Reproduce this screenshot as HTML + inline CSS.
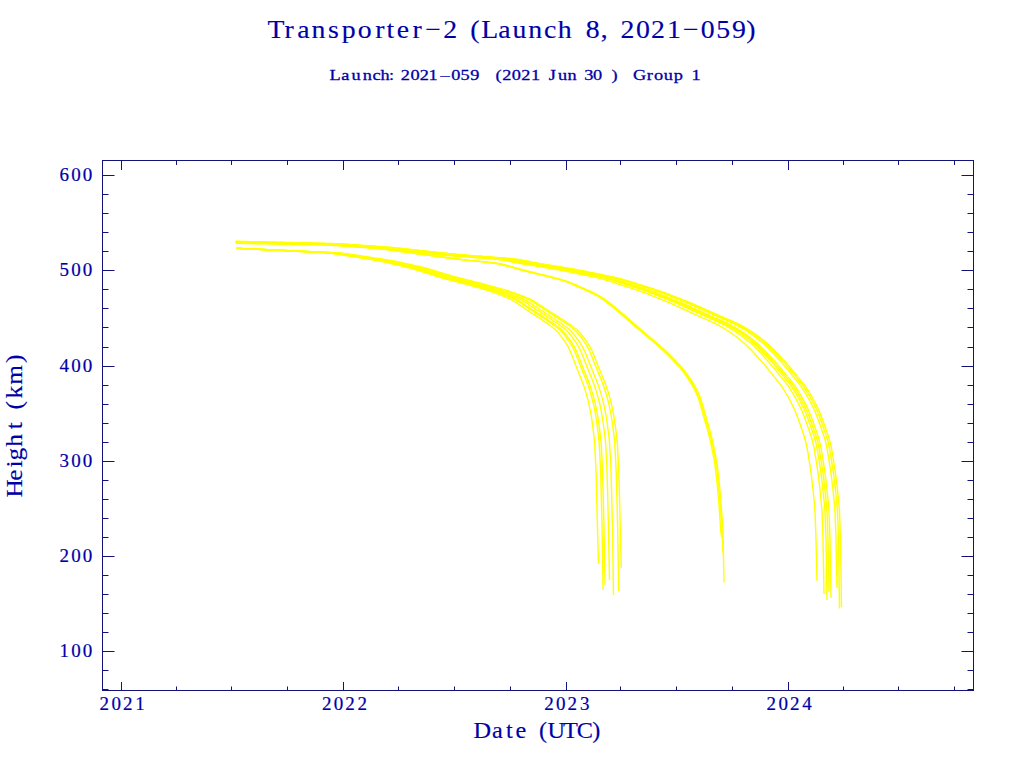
<!DOCTYPE html>
<html><head><meta charset="utf-8"><style>
html,body{margin:0;padding:0;background:#fff;width:1024px;height:768px;overflow:hidden}
svg{display:block}
text{font-family:"Liberation Serif", serif}
</style></head><body>
<svg width="1024" height="768" viewBox="0 0 1024 768">
<rect width="1024" height="768" fill="#fff"/>
<rect x="102.5" y="160.5" width="871" height="530" fill="none" stroke="#12127a" stroke-width="1"/>
<path d="M102.5 689.5h6M973.5 689.5h-6M102.5 670.5h6M973.5 670.5h-6M102.5 651.5h12M973.5 651.5h-12M102.5 632.5h6M973.5 632.5h-6M102.5 613.5h6M973.5 613.5h-6M102.5 594.5h6M973.5 594.5h-6M102.5 575.5h6M973.5 575.5h-6M102.5 556.5h12M973.5 556.5h-12M102.5 537.5h6M973.5 537.5h-6M102.5 518.5h6M973.5 518.5h-6M102.5 499.5h6M973.5 499.5h-6M102.5 480.5h6M973.5 480.5h-6M102.5 461.5h12M973.5 461.5h-12M102.5 442.5h6M973.5 442.5h-6M102.5 423.5h6M973.5 423.5h-6M102.5 404.5h6M973.5 404.5h-6M102.5 385.5h6M973.5 385.5h-6M102.5 366.5h12M973.5 366.5h-12M102.5 347.5h6M973.5 347.5h-6M102.5 327.5h6M973.5 327.5h-6M102.5 308.5h6M973.5 308.5h-6M102.5 289.5h6M973.5 289.5h-6M102.5 270.5h12M973.5 270.5h-12M102.5 251.5h6M973.5 251.5h-6M102.5 232.5h6M973.5 232.5h-6M102.5 213.5h6M973.5 213.5h-6M102.5 194.5h6M973.5 194.5h-6M102.5 175.5h12M973.5 175.5h-12M121.5 690.5v-8.5M121.5 160.5v9.5M176.5 690.5v-4M176.5 160.5v4.5M231.5 690.5v-4M231.5 160.5v4.5M287.5 690.5v-4M287.5 160.5v4.5M343.5 690.5v-8.5M343.5 160.5v9.5M398.5 690.5v-4M398.5 160.5v4.5M454.5 690.5v-4M454.5 160.5v4.5M510.5 690.5v-4M510.5 160.5v4.5M566.5 690.5v-8.5M566.5 160.5v9.5M620.5 690.5v-4M620.5 160.5v4.5M676.5 690.5v-4M676.5 160.5v4.5M732.5 690.5v-4M732.5 160.5v4.5M788.5 690.5v-8.5M788.5 160.5v9.5M843.5 690.5v-4M843.5 160.5v4.5M898.5 690.5v-4M898.5 160.5v4.5M954.5 690.5v-4M954.5 160.5v4.5" fill="none" stroke="#12127a" stroke-width="1"/>
<path d="M236.0 248.4 L236.0 248.4 L238.0 248.4 L240.0 248.5 L242.0 248.6 L244.0 248.7 L246.0 248.8 L248.0 248.9 L250.0 249.0 L252.0 249.1 L254.0 249.2 L256.0 249.3 L258.0 249.4 L260.0 249.5 L262.0 249.6 L264.0 249.7 L266.0 249.8 L268.0 249.9 L270.0 250.0 L272.0 250.1 L274.0 250.2 L276.0 250.3 L278.0 250.4 L280.0 250.5 L282.0 250.6 L284.0 250.7 L286.0 250.8 L288.0 250.9 L290.0 251.0 L292.0 251.1 L294.0 251.2 L296.0 251.3 L298.0 251.4 L300.0 251.5 L302.0 251.6 L304.0 251.7 L306.0 251.8 L308.0 251.9 L310.0 252.0 L312.0 252.1 L314.0 252.2 L316.0 252.3 L318.0 252.4 L320.0 252.5 L322.0 252.6 L324.0 252.7 L326.0 252.9 L328.0 253.0 L329.9 253.2 L331.9 253.4 L333.9 253.7 L335.9 254.0 L337.9 254.3 L339.8 254.6 L341.8 254.9 L343.8 255.2 L345.8 255.5 L347.7 255.8 L349.7 256.2 L351.7 256.5 L353.7 256.8 L355.7 257.1 L357.6 257.4 L359.6 257.7 L361.6 258.1 L363.6 258.4 L365.5 258.7 L367.5 259.0 L369.5 259.3 L371.5 259.6 L373.4 260.0 L375.4 260.3 L377.4 260.6 L379.3 261.0 L381.3 261.4 L383.3 261.8 L385.2 262.2 L387.2 262.7 L389.1 263.1 L391.1 263.6 L393.0 264.0 L395.0 264.5 L396.9 264.9 L398.9 265.4 L400.8 265.9 L402.8 266.3 L404.7 266.8 L406.6 267.3 L408.6 267.8 L410.5 268.3 L412.4 268.8 L414.4 269.4 L416.3 270.0 L418.2 270.6 L420.1 271.2 L422.0 271.8 L423.9 272.4 L425.8 273.0 L427.7 273.6 L429.6 274.2 L431.5 274.8 L433.4 275.4 L435.4 276.0 L437.3 276.6 L439.2 277.1 L441.1 277.7 L443.0 278.2 L445.0 278.7 L446.9 279.2 L448.9 279.7 L450.8 280.2 L452.7 280.7 L454.7 281.2 L456.6 281.7 L458.6 282.2 L460.5 282.7 L462.4 283.2 L464.4 283.7 L466.3 284.3 L468.2 284.8 L470.1 285.4 L472.1 285.9 L474.0 286.5 L475.9 287.0 L477.8 287.6 L479.8 288.1 L481.7 288.7 L483.6 289.2 L485.5 289.8 L487.4 290.4 L489.3 291.0 L491.2 291.6 L493.1 292.3 L495.0 292.9 L496.9 293.6 L498.8 294.3 L500.6 295.1 L502.5 295.8 L504.3 296.5 L506.2 297.3 L508.0 298.1 L509.8 298.9 L511.6 299.8 L513.3 300.8 L515.0 301.9 L516.7 302.9 L518.3 304.0 L520.0 305.2 L521.7 306.3 L523.3 307.4 L525.0 308.5 L526.6 309.7 L528.3 310.8 L529.9 311.9 L531.6 313.0 L533.3 314.1 L534.9 315.2 L536.6 316.3 L538.3 317.4 L540.0 318.5 L541.6 319.6 L543.3 320.8 L544.9 321.9 L546.6 323.0 L548.2 324.1 L549.9 325.3 L551.5 326.5 L553.0 327.7 L554.5 329.0 L556.0 330.3 L557.4 331.8 L558.7 333.3 L559.9 334.8 L561.1 336.4 L562.3 338.0 L563.5 339.6 L564.6 341.2 L565.7 342.9 L566.8 344.6 L567.8 346.3 L568.8 348.1 L569.6 349.8 L570.4 351.7 L571.2 353.5 L571.9 355.4 L572.7 357.2 L573.4 359.1 L574.1 361.0 L574.8 362.8 L575.5 364.7 L576.3 366.6 L577.0 368.4 L577.7 370.3 L578.5 372.1 L579.2 374.0 L579.9 375.9 L580.7 377.7 L581.4 379.6 L582.1 381.5 L582.8 383.3 L583.5 385.2 L584.1 387.1 L584.8 389.0 L585.4 390.9 L585.9 392.8 L586.5 394.7 L587.1 396.7 L587.6 398.6 L588.1 400.5 L588.6 402.5 L589.0 404.4 L589.4 406.4 L589.8 408.3 L590.2 410.3 L590.6 412.3 L590.9 414.2 L591.3 416.2 L591.6 418.2 L591.9 420.2 L592.2 422.1 L592.4 424.1 L592.7 426.1 L592.9 428.1 L593.2 430.1 L593.5 432.1 L593.7 434.0 L593.9 436.0 L594.2 438.0 L594.3 440.0 L594.5 442.0 L594.7 444.0 L594.8 446.0 L594.9 448.0 L595.0 450.0 L595.1 452.0 L595.2 454.0 L595.3 456.0 L595.4 458.0 L595.5 460.0 L595.6 462.0 L595.7 464.0 L595.8 466.0 L595.9 468.0 L596.0 470.0 L596.0 472.0 L596.1 474.0 L596.2 476.0 L596.2 478.0 L596.3 480.0 L596.3 482.0 L596.4 484.0 L596.4 486.0 L596.5 488.0 L596.5 490.0 L596.6 492.0 L596.6 494.0 L596.7 496.0 L596.7 498.0 L596.8 500.0 L596.8 502.0 L596.9 504.0 L596.9 506.0 L597.0 508.0 L597.0 510.0 L597.1 512.0 L597.1 514.0 L597.2 516.0 L597.2 518.0 L597.3 520.0 L597.3 522.0 L597.4 524.0 L597.4 526.0 L597.5 528.0 L597.5 530.0 L598.5 564.0" fill="none" stroke="#ffff00" stroke-width="1.4" stroke-linejoin="round"/>
<path d="M236.0 248.4 L236.0 248.4 L238.4 248.4 L240.5 248.5 L242.6 248.6 L244.7 248.7 L246.8 248.8 L248.9 248.9 L250.9 249.0 L253.0 249.1 L255.0 249.2 L257.1 249.3 L259.1 249.4 L261.2 249.5 L263.2 249.6 L265.3 249.7 L267.3 249.8 L269.4 249.9 L271.4 250.0 L273.4 250.1 L275.5 250.2 L277.5 250.3 L279.6 250.4 L281.6 250.5 L283.6 250.6 L285.7 250.7 L287.7 250.8 L289.7 250.9 L291.8 251.0 L293.8 251.1 L295.8 251.2 L297.9 251.3 L299.9 251.4 L301.9 251.5 L303.9 251.6 L306.0 251.7 L308.0 251.8 L310.0 251.9 L312.1 252.0 L314.1 252.1 L316.1 252.2 L318.1 252.3 L320.2 252.4 L322.2 252.5 L324.2 252.6 L326.2 252.7 L328.3 252.9 L330.3 253.0 L332.3 253.2 L334.3 253.4 L336.3 253.7 L338.3 254.0 L340.3 254.3 L342.3 254.6 L344.3 254.9 L346.3 255.2 L348.3 255.5 L350.3 255.8 L352.3 256.2 L354.3 256.5 L356.3 256.8 L358.3 257.1 L360.3 257.4 L362.3 257.7 L364.3 258.1 L366.3 258.4 L368.3 258.7 L370.3 259.0 L372.3 259.3 L374.3 259.6 L376.3 260.0 L378.3 260.3 L380.3 260.6 L382.2 261.0 L384.2 261.4 L386.2 261.8 L388.2 262.2 L390.1 262.7 L392.1 263.1 L394.1 263.6 L396.1 264.0 L398.0 264.5 L400.0 264.9 L402.0 265.4 L403.9 265.9 L405.9 266.3 L407.8 266.8 L409.8 267.3 L411.8 267.8 L413.7 268.3 L415.6 268.8 L417.6 269.4 L419.5 270.0 L421.4 270.6 L423.4 271.2 L425.3 271.8 L427.2 272.4 L429.1 273.0 L431.1 273.6 L433.0 274.2 L434.9 274.8 L436.8 275.4 L438.8 276.0 L440.7 276.6 L442.6 277.1 L444.6 277.7 L446.5 278.2 L448.5 278.7 L450.4 279.2 L452.4 279.7 L454.3 280.2 L456.3 280.7 L458.3 281.2 L460.2 281.7 L462.2 282.2 L464.1 282.7 L466.1 283.2 L468.0 283.7 L470.0 284.3 L471.9 284.8 L473.8 285.4 L475.8 285.9 L477.7 286.5 L479.7 287.0 L481.6 287.6 L483.5 288.1 L485.5 288.7 L487.4 289.2 L489.3 289.8 L491.3 290.4 L493.2 291.0 L495.1 291.6 L497.0 292.3 L498.9 292.9 L500.8 293.6 L502.7 294.3 L504.6 295.1 L506.4 295.8 L508.3 296.5 L510.2 297.3 L512.0 298.1 L513.8 298.9 L515.6 299.8 L517.3 300.8 L519.0 301.9 L520.7 302.9 L522.4 304.0 L524.1 305.2 L525.7 306.3 L527.4 307.4 L529.1 308.5 L530.7 309.7 L532.4 310.8 L534.1 311.9 L535.8 313.0 L537.4 314.1 L539.1 315.2 L540.8 316.3 L542.5 317.4 L544.2 318.5 L545.9 319.6 L547.5 320.8 L549.2 321.9 L550.9 323.0 L552.5 324.1 L554.1 325.3 L555.8 326.5 L557.3 327.7 L558.9 329.0 L560.3 330.3 L561.7 331.8 L563.0 333.3 L564.3 334.8 L565.5 336.4 L566.7 338.0 L567.9 339.6 L569.0 341.2 L570.1 342.9 L571.2 344.6 L572.2 346.3 L573.2 348.1 L574.0 349.8 L574.9 351.7 L575.6 353.5 L576.4 355.4 L577.1 357.2 L577.8 359.1 L578.5 361.0 L579.3 362.8 L580.0 364.7 L580.7 366.6 L581.5 368.4 L582.2 370.3 L582.9 372.1 L583.7 374.0 L584.4 375.9 L585.2 377.7 L585.9 379.6 L586.6 381.5 L587.3 383.3 L588.0 385.2 L588.6 387.1 L589.3 389.0 L589.9 390.9 L590.5 392.8 L591.0 394.7 L591.6 396.7 L592.1 398.6 L592.6 400.5 L593.1 402.5 L593.5 404.4 L594.0 406.4 L594.4 408.3 L594.8 410.3 L595.1 412.3 L595.5 414.2 L595.8 416.2 L596.1 418.2 L596.4 420.2 L596.7 422.1 L597.0 424.1 L597.3 426.1 L597.5 428.1 L597.8 430.1 L598.0 432.1 L598.3 434.0 L598.5 436.0 L598.7 438.0 L598.9 440.0 L599.1 442.0 L599.2 444.0 L599.4 446.0 L599.5 448.0 L599.6 450.0 L599.7 452.0 L599.8 454.0 L599.9 456.0 L600.0 458.0 L600.1 460.0 L600.2 462.0 L600.3 464.0 L600.4 466.0 L600.5 468.0 L600.5 470.0 L600.6 472.0 L600.7 474.0 L600.7 476.0 L600.8 478.0 L600.9 480.0 L600.9 482.0 L601.0 484.0 L601.0 486.0 L601.1 488.0 L601.1 490.0 L601.2 492.0 L601.2 494.0 L601.3 496.0 L601.3 498.0 L601.4 500.0 L601.4 502.0 L601.5 504.0 L601.5 506.0 L601.6 508.0 L601.6 510.0 L601.7 512.0 L601.7 514.0 L601.8 516.0 L601.8 518.0 L601.9 520.0 L601.9 522.0 L602.0 524.0 L602.0 526.0 L602.1 528.0 L602.1 530.0 L603.1 590.0" fill="none" stroke="#ffff00" stroke-width="1.4" stroke-linejoin="round"/>
<path d="M236.0 248.4 L236.1 248.4 L238.5 248.4 L240.7 248.5 L242.9 248.6 L245.0 248.7 L247.1 248.8 L249.2 248.9 L251.3 249.0 L253.4 249.1 L255.5 249.2 L257.5 249.3 L259.6 249.4 L261.7 249.5 L263.7 249.6 L265.8 249.7 L267.9 249.8 L269.9 249.9 L272.0 250.0 L274.0 250.1 L276.1 250.2 L278.2 250.3 L280.2 250.4 L282.3 250.5 L284.3 250.6 L286.4 250.7 L288.4 250.8 L290.5 250.9 L292.5 251.0 L294.5 251.1 L296.6 251.2 L298.6 251.3 L300.7 251.4 L302.7 251.5 L304.8 251.6 L306.8 251.7 L308.8 251.8 L310.9 251.9 L312.9 252.0 L315.0 252.1 L317.0 252.2 L319.0 252.3 L321.1 252.4 L323.1 252.5 L325.1 252.6 L327.2 252.7 L329.2 252.9 L331.2 253.0 L333.3 253.2 L335.3 253.4 L337.3 253.7 L339.3 254.0 L341.3 254.3 L343.3 254.6 L345.3 254.9 L347.3 255.2 L349.4 255.5 L351.4 255.8 L353.4 256.2 L355.4 256.5 L357.4 256.8 L359.4 257.1 L361.4 257.4 L363.4 257.7 L365.4 258.1 L367.4 258.4 L369.4 258.7 L371.4 259.0 L373.4 259.3 L375.4 259.6 L377.4 260.0 L379.4 260.3 L381.4 260.6 L383.4 261.0 L385.4 261.4 L387.4 261.8 L389.4 262.2 L391.4 262.7 L393.4 263.1 L395.3 263.6 L397.3 264.0 L399.3 264.5 L401.3 264.9 L403.2 265.4 L405.2 265.9 L407.2 266.3 L409.1 266.8 L411.1 267.3 L413.1 267.8 L415.0 268.3 L417.0 268.8 L418.9 269.4 L420.9 270.0 L422.8 270.6 L424.7 271.2 L426.7 271.8 L428.6 272.4 L430.5 273.0 L432.5 273.6 L434.4 274.2 L436.3 274.8 L438.2 275.4 L440.2 276.0 L442.1 276.6 L444.1 277.1 L446.0 277.7 L448.0 278.2 L449.9 278.7 L451.9 279.2 L453.8 279.7 L455.8 280.2 L457.8 280.7 L459.7 281.2 L461.7 281.7 L463.7 282.2 L465.6 282.7 L467.6 283.2 L469.5 283.7 L471.5 284.3 L473.4 284.8 L475.4 285.4 L477.3 285.9 L479.3 286.5 L481.2 287.0 L483.1 287.6 L485.1 288.1 L487.0 288.7 L489.0 289.2 L490.9 289.8 L492.9 290.4 L494.8 291.0 L496.7 291.6 L498.6 292.3 L500.5 292.9 L502.4 293.6 L504.3 294.3 L506.2 295.1 L508.1 295.8 L509.9 296.5 L511.8 297.3 L513.7 298.1 L515.5 298.9 L517.3 299.8 L519.0 300.8 L520.7 301.9 L522.4 302.9 L524.1 304.0 L525.8 305.2 L527.4 306.3 L529.1 307.4 L530.8 308.5 L532.4 309.7 L534.1 310.8 L535.8 311.9 L537.5 313.0 L539.2 314.1 L540.9 315.2 L542.5 316.3 L544.2 317.4 L545.9 318.5 L547.6 319.6 L549.3 320.8 L550.9 321.9 L552.6 323.0 L554.3 324.1 L555.9 325.3 L557.5 326.5 L559.1 327.7 L560.6 329.0 L562.1 330.3 L563.5 331.8 L564.8 333.3 L566.1 334.8 L567.3 336.4 L568.5 338.0 L569.7 339.6 L570.8 341.2 L572.0 342.9 L573.0 344.6 L574.0 346.3 L575.0 348.1 L575.9 349.8 L576.7 351.7 L577.5 353.5 L578.2 355.4 L578.9 357.2 L579.7 359.1 L580.4 361.0 L581.1 362.8 L581.8 364.7 L582.6 366.6 L583.3 368.4 L584.0 370.3 L584.8 372.1 L585.5 374.0 L586.3 375.9 L587.0 377.7 L587.8 379.6 L588.5 381.5 L589.2 383.3 L589.9 385.2 L590.5 387.1 L591.1 389.0 L591.7 390.9 L592.3 392.8 L592.9 394.7 L593.5 396.7 L594.0 398.6 L594.5 400.5 L595.0 402.5 L595.4 404.4 L595.8 406.4 L596.2 408.3 L596.6 410.3 L597.0 412.3 L597.4 414.2 L597.7 416.2 L598.0 418.2 L598.3 420.2 L598.6 422.1 L598.9 424.1 L599.1 426.1 L599.4 428.1 L599.7 430.1 L599.9 432.1 L600.2 434.0 L600.4 436.0 L600.6 438.0 L600.8 440.0 L601.0 442.0 L601.1 444.0 L601.3 446.0 L601.4 448.0 L601.5 450.0 L601.6 452.0 L601.7 454.0 L601.8 456.0 L601.9 458.0 L602.0 460.0 L602.1 462.0 L602.2 464.0 L602.3 466.0 L602.4 468.0 L602.4 470.0 L602.5 472.0 L602.6 474.0 L602.6 476.0 L602.7 478.0 L602.8 480.0 L602.8 482.0 L602.9 484.0 L602.9 486.0 L603.0 488.0 L603.0 490.0 L603.1 492.0 L603.1 494.0 L603.2 496.0 L603.2 498.0 L603.3 500.0 L603.3 502.0 L603.4 504.0 L603.4 506.0 L603.5 508.0 L603.5 510.0 L603.6 512.0 L603.6 514.0 L603.7 516.0 L603.7 518.0 L603.8 520.0 L603.8 522.0 L603.9 524.0 L603.9 526.0 L604.0 528.0 L604.0 530.0 L605.0 585.0" fill="none" stroke="#ffff00" stroke-width="1.4" stroke-linejoin="round"/>
<path d="M236.0 248.4 L236.1 248.4 L238.8 248.4 L241.2 248.5 L243.4 248.6 L245.7 248.7 L247.8 248.8 L250.0 248.9 L252.2 249.0 L254.3 249.1 L256.5 249.2 L258.6 249.3 L260.7 249.4 L262.8 249.5 L265.0 249.6 L267.1 249.7 L269.2 249.8 L271.3 249.9 L273.4 250.0 L275.5 250.1 L277.6 250.2 L279.7 250.3 L281.7 250.4 L283.8 250.5 L285.9 250.6 L288.0 250.7 L290.1 250.8 L292.2 250.9 L294.2 251.0 L296.3 251.1 L298.4 251.2 L300.5 251.3 L302.5 251.4 L304.6 251.5 L306.7 251.6 L308.7 251.7 L310.8 251.8 L312.9 251.9 L315.0 252.0 L317.0 252.1 L319.1 252.2 L321.1 252.3 L323.2 252.4 L325.3 252.5 L327.3 252.6 L329.4 252.7 L331.4 252.9 L333.5 253.0 L335.5 253.2 L337.6 253.4 L339.6 253.7 L341.7 254.0 L343.7 254.3 L345.7 254.6 L347.8 254.9 L349.8 255.2 L351.8 255.5 L353.9 255.8 L355.9 256.2 L357.9 256.5 L360.0 256.8 L362.0 257.1 L364.0 257.4 L366.0 257.7 L368.1 258.1 L370.1 258.4 L372.1 258.7 L374.1 259.0 L376.2 259.3 L378.2 259.6 L380.2 260.0 L382.2 260.3 L384.3 260.6 L386.3 261.0 L388.3 261.4 L390.3 261.8 L392.3 262.2 L394.3 262.7 L396.3 263.1 L398.3 263.6 L400.3 264.0 L402.3 264.5 L404.3 264.9 L406.2 265.4 L408.2 265.9 L410.2 266.3 L412.2 266.8 L414.2 267.3 L416.2 267.8 L418.2 268.3 L420.1 268.8 L422.1 269.4 L424.0 270.0 L426.0 270.6 L427.9 271.2 L429.9 271.8 L431.8 272.4 L433.8 273.0 L435.7 273.6 L437.7 274.2 L439.6 274.8 L441.6 275.4 L443.5 276.0 L445.5 276.6 L447.4 277.1 L449.4 277.7 L451.4 278.2 L453.3 278.7 L455.3 279.2 L457.3 279.7 L459.3 280.2 L461.3 280.7 L463.2 281.2 L465.2 281.7 L467.2 282.2 L469.2 282.7 L471.1 283.2 L473.1 283.7 L475.1 284.3 L477.0 284.8 L479.0 285.4 L480.9 285.9 L482.9 286.5 L484.9 287.0 L486.8 287.6 L488.8 288.1 L490.8 288.7 L492.7 289.2 L494.7 289.8 L496.6 290.4 L498.5 291.0 L500.5 291.6 L502.4 292.3 L504.3 292.9 L506.2 293.6 L508.1 294.3 L510.0 295.1 L511.9 295.8 L513.8 296.5 L515.7 297.3 L517.6 298.1 L519.4 298.9 L521.2 299.8 L522.9 300.8 L524.7 301.9 L526.4 302.9 L528.1 304.0 L529.8 305.2 L531.4 306.3 L533.1 307.4 L534.8 308.5 L536.5 309.7 L538.2 310.8 L539.9 311.9 L541.6 313.0 L543.2 314.1 L544.9 315.2 L546.6 316.3 L548.3 317.4 L550.0 318.5 L551.7 319.6 L553.4 320.8 L555.1 321.9 L556.8 323.0 L558.5 324.1 L560.1 325.3 L561.7 326.5 L563.3 327.7 L564.9 329.0 L566.3 330.3 L567.7 331.8 L569.1 333.3 L570.3 334.8 L571.6 336.4 L572.8 338.0 L574.0 339.6 L575.1 341.2 L576.3 342.9 L577.3 344.6 L578.4 346.3 L579.3 348.1 L580.2 349.8 L581.0 351.7 L581.8 353.5 L582.6 355.4 L583.3 357.2 L584.0 359.1 L584.7 361.0 L585.5 362.8 L586.2 364.7 L586.9 366.6 L587.7 368.4 L588.4 370.3 L589.2 372.1 L589.9 374.0 L590.7 375.9 L591.4 377.7 L592.2 379.6 L592.9 381.5 L593.6 383.3 L594.3 385.2 L594.9 387.1 L595.6 389.0 L596.2 390.9 L596.8 392.8 L597.3 394.7 L597.9 396.7 L598.4 398.6 L598.9 400.5 L599.4 402.5 L599.9 404.4 L600.3 406.4 L600.7 408.3 L601.1 410.3 L601.5 412.3 L601.8 414.2 L602.2 416.2 L602.5 418.2 L602.8 420.2 L603.1 422.1 L603.3 424.1 L603.6 426.1 L603.9 428.1 L604.1 430.1 L604.4 432.1 L604.6 434.0 L604.9 436.0 L605.1 438.0 L605.3 440.0 L605.5 442.0 L605.6 444.0 L605.7 446.0 L605.9 448.0 L606.0 450.0 L606.1 452.0 L606.2 454.0 L606.3 456.0 L606.4 458.0 L606.5 460.0 L606.6 462.0 L606.7 464.0 L606.8 466.0 L606.8 468.0 L606.9 470.0 L607.0 472.0 L607.1 474.0 L607.1 476.0 L607.2 478.0 L607.2 480.0 L607.3 482.0 L607.4 484.0 L607.4 486.0 L607.5 488.0 L607.5 490.0 L607.6 492.0 L607.6 494.0 L607.7 496.0 L607.7 498.0 L607.8 500.0 L607.8 502.0 L607.9 504.0 L607.9 506.0 L608.0 508.0 L608.0 510.0 L608.1 512.0 L608.1 514.0 L608.2 516.0 L608.2 518.0 L608.3 520.0 L608.3 522.0 L608.4 524.0 L608.4 526.0 L608.5 528.0 L608.5 530.0 L609.5 580.0" fill="none" stroke="#ffff00" stroke-width="1.4" stroke-linejoin="round"/>
<path d="M236.0 248.4 L236.1 248.4 L239.1 248.4 L241.6 248.5 L244.0 248.6 L246.2 248.7 L248.5 248.8 L250.7 248.9 L253.0 249.0 L255.2 249.1 L257.4 249.2 L259.5 249.3 L261.7 249.4 L263.9 249.5 L266.0 249.6 L268.2 249.7 L270.3 249.8 L272.5 249.9 L274.6 250.0 L276.7 250.1 L278.9 250.2 L281.0 250.3 L283.1 250.4 L285.2 250.5 L287.3 250.6 L289.5 250.7 L291.6 250.8 L293.7 250.9 L295.8 251.0 L297.9 251.1 L300.0 251.2 L302.1 251.3 L304.2 251.4 L306.3 251.5 L308.4 251.6 L310.5 251.7 L312.6 251.8 L314.7 251.9 L316.8 252.0 L318.9 252.1 L320.9 252.2 L323.0 252.3 L325.1 252.4 L327.2 252.5 L329.3 252.6 L331.4 252.7 L333.4 252.9 L335.5 253.0 L337.6 253.2 L339.7 253.4 L341.7 253.7 L343.8 254.0 L345.8 254.3 L347.9 254.6 L349.9 254.9 L352.0 255.2 L354.0 255.5 L356.1 255.8 L358.1 256.2 L360.2 256.5 L362.2 256.8 L364.3 257.1 L366.3 257.4 L368.4 257.7 L370.4 258.1 L372.5 258.4 L374.5 258.7 L376.6 259.0 L378.6 259.3 L380.6 259.6 L382.7 260.0 L384.7 260.3 L386.8 260.6 L388.8 261.0 L390.8 261.4 L392.8 261.8 L394.9 262.2 L396.9 262.7 L398.9 263.1 L400.9 263.6 L402.9 264.0 L404.9 264.5 L406.9 264.9 L408.9 265.4 L410.9 265.9 L412.9 266.3 L415.0 266.8 L417.0 267.3 L418.9 267.8 L420.9 268.3 L422.9 268.8 L424.9 269.4 L426.9 270.0 L428.8 270.6 L430.8 271.2 L432.8 271.8 L434.7 272.4 L436.7 273.0 L438.6 273.6 L440.6 274.2 L442.6 274.8 L444.5 275.4 L446.5 276.0 L448.5 276.6 L450.4 277.1 L452.4 277.7 L454.4 278.2 L456.4 278.7 L458.4 279.2 L460.4 279.7 L462.4 280.2 L464.4 280.7 L466.3 281.2 L468.3 281.7 L470.3 282.2 L472.3 282.7 L474.3 283.2 L476.3 283.7 L478.3 284.3 L480.2 284.8 L482.2 285.4 L484.2 285.9 L486.2 286.5 L488.1 287.0 L490.1 287.6 L492.1 288.1 L494.0 288.7 L496.0 289.2 L498.0 289.8 L499.9 290.4 L501.9 291.0 L503.8 291.6 L505.8 292.3 L507.7 292.9 L509.6 293.6 L511.5 294.3 L513.5 295.1 L515.4 295.8 L517.3 296.5 L519.2 297.3 L521.0 298.1 L522.9 298.9 L524.7 299.8 L526.4 300.8 L528.2 301.9 L529.9 302.9 L531.6 304.0 L533.3 305.2 L535.0 306.3 L536.7 307.4 L538.4 308.5 L540.1 309.7 L541.8 310.8 L543.5 311.9 L545.2 313.0 L546.9 314.1 L548.6 315.2 L550.3 316.3 L552.0 317.4 L553.7 318.5 L555.4 319.6 L557.1 320.8 L558.8 321.9 L560.5 323.0 L562.2 324.1 L563.8 325.3 L565.5 326.5 L567.1 327.7 L568.6 329.0 L570.1 330.3 L571.5 331.8 L572.8 333.3 L574.1 334.8 L575.4 336.4 L576.6 338.0 L577.8 339.6 L578.9 341.2 L580.1 342.9 L581.2 344.6 L582.2 346.3 L583.1 348.1 L584.0 349.8 L584.9 351.7 L585.7 353.5 L586.4 355.4 L587.1 357.2 L587.9 359.1 L588.6 361.0 L589.3 362.8 L590.1 364.7 L590.8 366.6 L591.6 368.4 L592.3 370.3 L593.1 372.1 L593.8 374.0 L594.6 375.9 L595.3 377.7 L596.1 379.6 L596.8 381.5 L597.5 383.3 L598.2 385.2 L598.9 387.1 L599.5 389.0 L600.1 390.9 L600.7 392.8 L601.3 394.7 L601.8 396.7 L602.4 398.6 L602.9 400.5 L603.4 402.5 L603.8 404.4 L604.2 406.4 L604.7 408.3 L605.0 410.3 L605.4 412.3 L605.8 414.2 L606.1 416.2 L606.5 418.2 L606.8 420.2 L607.0 422.1 L607.3 424.1 L607.6 426.1 L607.8 428.1 L608.1 430.1 L608.4 432.1 L608.6 434.0 L608.9 436.0 L609.1 438.0 L609.3 440.0 L609.4 442.0 L609.6 444.0 L609.7 446.0 L609.8 448.0 L609.9 450.0 L610.0 452.0 L610.2 454.0 L610.3 456.0 L610.4 458.0 L610.5 460.0 L610.6 462.0 L610.7 464.0 L610.8 466.0 L610.8 468.0 L610.9 470.0 L611.0 472.0 L611.1 474.0 L611.1 476.0 L611.2 478.0 L611.2 480.0 L611.3 482.0 L611.3 484.0 L611.4 486.0 L611.5 488.0 L611.5 490.0 L611.6 492.0 L611.6 494.0 L611.7 496.0 L611.7 498.0 L611.8 500.0 L611.8 502.0 L611.9 504.0 L611.9 506.0 L612.0 508.0 L612.0 510.0 L612.1 512.0 L612.1 514.0 L612.2 516.0 L612.2 518.0 L612.3 520.0 L612.3 522.0 L612.4 524.0 L612.4 526.0 L612.5 528.0 L612.5 530.0 L613.5 595.0" fill="none" stroke="#ffff00" stroke-width="1.4" stroke-linejoin="round"/>
<path d="M236.0 248.4 L236.2 248.4 L239.5 248.4 L242.1 248.5 L244.6 248.6 L247.0 248.7 L249.4 248.8 L251.7 248.9 L254.0 249.0 L256.3 249.1 L258.5 249.2 L260.8 249.3 L263.0 249.4 L265.2 249.5 L267.4 249.6 L269.6 249.7 L271.8 249.8 L274.0 249.9 L276.2 250.0 L278.4 250.1 L280.5 250.2 L282.7 250.3 L284.9 250.4 L287.0 250.5 L289.2 250.6 L291.4 250.7 L293.5 250.8 L295.6 250.9 L297.8 251.0 L299.9 251.1 L302.1 251.2 L304.2 251.3 L306.3 251.4 L308.5 251.5 L310.6 251.6 L312.7 251.7 L314.9 251.8 L317.0 251.9 L319.1 252.0 L321.2 252.1 L323.4 252.2 L325.5 252.3 L327.6 252.4 L329.7 252.5 L331.8 252.6 L333.9 252.7 L336.0 252.9 L338.1 253.0 L340.2 253.2 L342.3 253.4 L344.4 253.7 L346.5 254.0 L348.6 254.3 L350.7 254.6 L352.7 254.9 L354.8 255.2 L356.9 255.5 L359.0 255.8 L361.1 256.2 L363.1 256.5 L365.2 256.8 L367.3 257.1 L369.3 257.4 L371.4 257.7 L373.5 258.1 L375.6 258.4 L377.6 258.7 L379.7 259.0 L381.8 259.3 L383.8 259.6 L385.9 260.0 L388.0 260.3 L390.0 260.6 L392.1 261.0 L394.1 261.4 L396.2 261.8 L398.2 262.2 L400.2 262.7 L402.3 263.1 L404.3 263.6 L406.3 264.0 L408.4 264.5 L410.4 264.9 L412.4 265.4 L414.5 265.9 L416.5 266.3 L418.5 266.8 L420.5 267.3 L422.5 267.8 L424.5 268.3 L426.5 268.8 L428.5 269.4 L430.5 270.0 L432.5 270.6 L434.5 271.2 L436.5 271.8 L438.5 272.4 L440.4 273.0 L442.4 273.6 L444.4 274.2 L446.4 274.8 L448.4 275.4 L450.4 276.0 L452.3 276.6 L454.3 277.1 L456.3 277.7 L458.3 278.2 L460.3 278.7 L462.4 279.2 L464.4 279.7 L466.4 280.2 L468.4 280.7 L470.4 281.2 L472.4 281.7 L474.4 282.2 L476.4 282.7 L478.4 283.2 L480.4 283.7 L482.4 284.3 L484.4 284.8 L486.4 285.4 L488.4 285.9 L490.4 286.5 L492.4 287.0 L494.4 287.6 L496.3 288.1 L498.3 288.7 L500.3 289.2 L502.3 289.8 L504.3 290.4 L506.3 291.0 L508.2 291.6 L510.2 292.3 L512.1 292.9 L514.0 293.6 L516.0 294.3 L517.9 295.1 L519.8 295.8 L521.8 296.5 L523.7 297.3 L525.5 298.1 L527.4 298.9 L529.2 299.8 L531.0 300.8 L532.8 301.9 L534.5 302.9 L536.2 304.0 L537.9 305.2 L539.6 306.3 L541.3 307.4 L543.0 308.5 L544.7 309.7 L546.4 310.8 L548.2 311.9 L549.9 313.0 L551.6 314.1 L553.3 315.2 L555.0 316.3 L556.8 317.4 L558.5 318.5 L560.2 319.6 L561.9 320.8 L563.6 321.9 L565.3 323.0 L567.0 324.1 L568.7 325.3 L570.3 326.5 L571.9 327.7 L573.5 329.0 L575.0 330.3 L576.4 331.8 L577.8 333.3 L579.0 334.8 L580.3 336.4 L581.5 338.0 L582.7 339.6 L583.9 341.2 L585.0 342.9 L586.1 344.6 L587.2 346.3 L588.1 348.1 L589.0 349.8 L589.9 351.7 L590.7 353.5 L591.4 355.4 L592.2 357.2 L592.9 359.1 L593.6 361.0 L594.4 362.8 L595.1 364.7 L595.9 366.6 L596.6 368.4 L597.4 370.3 L598.1 372.1 L598.9 374.0 L599.6 375.9 L600.4 377.7 L601.2 379.6 L601.9 381.5 L602.6 383.3 L603.3 385.2 L604.0 387.1 L604.6 389.0 L605.2 390.9 L605.8 392.8 L606.4 394.7 L607.0 396.7 L607.5 398.6 L608.0 400.5 L608.5 402.5 L609.0 404.4 L609.4 406.4 L609.8 408.3 L610.2 410.3 L610.6 412.3 L610.9 414.2 L611.3 416.2 L611.6 418.2 L611.9 420.2 L612.2 422.1 L612.5 424.1 L612.7 426.1 L613.0 428.1 L613.3 430.1 L613.5 432.1 L613.8 434.0 L614.0 436.0 L614.3 438.0 L614.5 440.0 L614.6 442.0 L614.8 444.0 L614.9 446.0 L615.0 448.0 L615.1 450.0 L615.2 452.0 L615.3 454.0 L615.4 456.0 L615.5 458.0 L615.6 460.0 L615.7 462.0 L615.8 464.0 L615.9 466.0 L616.0 468.0 L616.1 470.0 L616.2 472.0 L616.3 474.0 L616.3 476.0 L616.4 478.0 L616.4 480.0 L616.5 482.0 L616.5 484.0 L616.6 486.0 L616.7 488.0 L616.7 490.0 L616.8 492.0 L616.8 494.0 L616.9 496.0 L616.9 498.0 L617.0 500.0 L617.0 502.0 L617.1 504.0 L617.1 506.0 L617.2 508.0 L617.2 510.0 L617.3 512.0 L617.3 514.0 L617.4 516.0 L617.4 518.0 L617.5 520.0 L617.5 522.0 L617.6 524.0 L617.6 526.0 L617.7 528.0 L617.7 530.0 L618.7 591.0" fill="none" stroke="#ffff00" stroke-width="1.4" stroke-linejoin="round"/>
<path d="M236.0 248.4 L236.2 248.4 L239.7 248.4 L242.4 248.5 L245.0 248.6 L247.4 248.7 L249.8 248.8 L252.2 248.9 L254.5 249.0 L256.8 249.1 L259.1 249.2 L261.4 249.3 L263.6 249.4 L265.9 249.5 L268.1 249.6 L270.3 249.7 L272.6 249.8 L274.8 249.9 L277.0 250.0 L279.2 250.1 L281.4 250.2 L283.6 250.3 L285.8 250.4 L287.9 250.5 L290.1 250.6 L292.3 250.7 L294.5 250.8 L296.6 250.9 L298.8 251.0 L301.0 251.1 L303.1 251.2 L305.3 251.3 L307.4 251.4 L309.6 251.5 L311.7 251.6 L313.9 251.7 L316.0 251.8 L318.1 251.9 L320.3 252.0 L322.4 252.1 L324.6 252.2 L326.7 252.3 L328.8 252.4 L331.0 252.5 L333.1 252.6 L335.2 252.7 L337.3 252.9 L339.5 253.0 L341.6 253.2 L343.7 253.4 L345.8 253.7 L347.9 254.0 L350.0 254.3 L352.1 254.6 L354.2 254.9 L356.2 255.2 L358.3 255.5 L360.4 255.8 L362.5 256.2 L364.6 256.5 L366.7 256.8 L368.8 257.1 L370.9 257.4 L372.9 257.7 L375.0 258.1 L377.1 258.4 L379.2 258.7 L381.3 259.0 L383.3 259.3 L385.4 259.6 L387.5 260.0 L389.6 260.3 L391.6 260.6 L393.7 261.0 L395.8 261.4 L397.8 261.8 L399.9 262.2 L401.9 262.7 L404.0 263.1 L406.0 263.6 L408.0 264.0 L410.1 264.5 L412.1 264.9 L414.2 265.4 L416.2 265.9 L418.2 266.3 L420.3 266.8 L422.3 267.3 L424.3 267.8 L426.4 268.3 L428.4 268.8 L430.4 269.4 L432.4 270.0 L434.4 270.6 L436.4 271.2 L438.3 271.8 L440.3 272.4 L442.3 273.0 L444.3 273.6 L446.3 274.2 L448.3 274.8 L450.3 275.4 L452.3 276.0 L454.3 276.6 L456.3 277.1 L458.3 277.7 L460.3 278.2 L462.3 278.7 L464.3 279.2 L466.4 279.7 L468.4 280.2 L470.4 280.7 L472.4 281.2 L474.4 281.7 L476.4 282.2 L478.5 282.7 L480.5 283.2 L482.5 283.7 L484.5 284.3 L486.5 284.8 L488.5 285.4 L490.5 285.9 L492.5 286.5 L494.5 287.0 L496.5 287.6 L498.5 288.1 L500.5 288.7 L502.5 289.2 L504.5 289.8 L506.4 290.4 L508.4 291.0 L510.4 291.6 L512.4 292.3 L514.3 292.9 L516.2 293.6 L518.2 294.3 L520.1 295.1 L522.1 295.8 L524.0 296.5 L525.9 297.3 L527.8 298.1 L529.7 298.9 L531.5 299.8 L533.3 300.8 L535.0 301.9 L536.8 302.9 L538.5 304.0 L540.2 305.2 L541.9 306.3 L543.6 307.4 L545.3 308.5 L547.1 309.7 L548.8 310.8 L550.5 311.9 L552.2 313.0 L553.9 314.1 L555.7 315.2 L557.4 316.3 L559.1 317.4 L560.9 318.5 L562.6 319.6 L564.3 320.8 L566.0 321.9 L567.7 323.0 L569.4 324.1 L571.1 325.3 L572.8 326.5 L574.4 327.7 L575.9 329.0 L577.4 330.3 L578.9 331.8 L580.2 333.3 L581.5 334.8 L582.8 336.4 L584.0 338.0 L585.2 339.6 L586.4 341.2 L587.5 342.9 L588.6 344.6 L589.7 346.3 L590.6 348.1 L591.5 349.8 L592.4 351.7 L593.2 353.5 L593.9 355.4 L594.7 357.2 L595.4 359.1 L596.1 361.0 L596.9 362.8 L597.6 364.7 L598.4 366.6 L599.1 368.4 L599.9 370.3 L600.7 372.1 L601.4 374.0 L602.2 375.9 L602.9 377.7 L603.7 379.6 L604.4 381.5 L605.2 383.3 L605.8 385.2 L606.5 387.1 L607.1 389.0 L607.8 390.9 L608.4 392.8 L609.0 394.7 L609.5 396.7 L610.1 398.6 L610.6 400.5 L611.1 402.5 L611.5 404.4 L612.0 406.4 L612.4 408.3 L612.8 410.3 L613.2 412.3 L613.5 414.2 L613.9 416.2 L614.2 418.2 L614.5 420.2 L614.8 422.1 L615.1 424.1 L615.3 426.1 L615.6 428.1 L615.9 430.1 L616.1 432.1 L616.4 434.0 L616.6 436.0 L616.8 438.0 L617.0 440.0 L617.2 442.0 L617.4 444.0 L617.5 446.0 L617.6 448.0 L617.7 450.0 L617.8 452.0 L617.9 454.0 L618.0 456.0 L618.1 458.0 L618.2 460.0 L618.3 462.0 L618.4 464.0 L618.5 466.0 L618.6 468.0 L618.7 470.0 L618.8 472.0 L618.8 474.0 L618.9 476.0 L619.0 478.0 L619.0 480.0 L619.1 482.0 L619.1 484.0 L619.2 486.0 L619.2 488.0 L619.3 490.0 L619.4 492.0 L619.4 494.0 L619.5 496.0 L619.5 498.0 L619.6 500.0 L619.6 502.0 L619.7 504.0 L619.7 506.0 L619.8 508.0 L619.8 510.0 L619.9 512.0 L619.9 514.0 L620.0 516.0 L620.0 518.0 L620.1 520.0 L620.1 522.0 L620.2 524.0 L620.2 526.0 L620.3 528.0 L620.3 530.0 L621.3 568.0" fill="none" stroke="#ffff00" stroke-width="1.4" stroke-linejoin="round"/>
<path d="M236.0 243.3 L236.0 243.3 L238.0 243.4 L240.0 243.4 L242.0 243.4 L244.0 243.5 L246.0 243.5 L248.0 243.5 L250.0 243.6 L252.0 243.6 L254.0 243.7 L256.0 243.7 L258.0 243.7 L260.0 243.8 L262.0 243.8 L264.0 243.9 L266.0 243.9 L268.0 243.9 L270.0 244.0 L272.0 244.0 L274.0 244.1 L276.0 244.1 L278.0 244.1 L280.0 244.2 L282.0 244.2 L284.0 244.3 L286.0 244.3 L288.0 244.4 L290.0 244.4 L292.0 244.4 L294.0 244.5 L296.0 244.5 L298.0 244.6 L300.0 244.6 L302.0 244.6 L304.0 244.7 L306.1 244.7 L308.1 244.8 L310.1 244.8 L312.1 244.8 L314.1 244.9 L316.1 244.9 L318.1 245.0 L320.1 245.0 L322.1 245.0 L324.1 245.1 L326.1 245.1 L328.1 245.2 L330.1 245.3 L332.1 245.4 L334.1 245.5 L336.1 245.6 L338.0 245.8 L340.0 245.9 L342.0 246.0 L344.0 246.2 L346.0 246.3 L348.0 246.4 L350.0 246.6 L352.0 246.7 L354.0 246.8 L356.0 247.0 L358.0 247.1 L360.0 247.2 L362.0 247.4 L364.0 247.5 L366.0 247.6 L368.0 247.8 L370.0 247.9 L372.0 248.1 L374.0 248.2 L376.0 248.3 L378.0 248.5 L380.0 248.7 L382.0 248.9 L384.0 249.0 L385.9 249.2 L387.9 249.5 L389.9 249.7 L391.9 249.9 L393.9 250.1 L395.9 250.3 L397.9 250.5 L399.9 250.7 L401.9 250.9 L403.9 251.1 L405.8 251.4 L407.8 251.6 L409.8 251.8 L411.8 252.0 L413.8 252.2 L415.8 252.4 L417.8 252.6 L419.8 252.8 L421.8 253.1 L423.8 253.3 L425.7 253.5 L427.7 253.7 L429.7 253.9 L431.7 254.1 L433.7 254.3 L435.7 254.5 L437.7 254.7 L439.7 254.9 L441.7 255.1 L443.7 255.3 L445.7 255.4 L447.7 255.6 L449.7 255.7 L451.6 255.9 L453.6 256.0 L455.6 256.2 L457.6 256.3 L459.6 256.5 L461.6 256.6 L463.6 256.8 L465.6 256.9 L467.6 257.1 L469.6 257.2 L471.6 257.4 L473.6 257.5 L475.6 257.7 L477.6 257.8 L479.6 258.0 L481.6 258.1 L483.6 258.3 L485.6 258.4 L487.6 258.6 L489.6 258.7 L491.6 258.9 L493.6 259.0 L495.5 259.2 L497.5 259.4 L499.5 259.7 L501.5 260.0 L503.5 260.3 L505.4 260.6 L507.4 261.0 L509.4 261.4 L511.3 261.8 L513.3 262.2 L515.3 262.5 L517.2 262.9 L519.2 263.3 L521.2 263.6 L523.1 264.0 L525.1 264.3 L527.1 264.6 L529.0 265.0 L531.0 265.3 L533.0 265.6 L535.0 265.9 L536.9 266.3 L538.9 266.6 L540.9 266.9 L542.9 267.2 L544.8 267.5 L546.8 267.9 L548.8 268.2 L550.8 268.5 L552.7 268.8 L554.7 269.2 L556.7 269.5 L558.7 269.8 L560.6 270.2 L562.6 270.6 L564.6 271.0 L566.5 271.3 L568.5 271.7 L570.4 272.1 L572.4 272.5 L574.4 272.9 L576.3 273.3 L578.3 273.7 L580.3 274.2 L582.2 274.6 L584.2 275.0 L586.1 275.4 L588.1 275.8 L590.1 276.2 L592.0 276.6 L594.0 277.0 L595.9 277.4 L597.9 277.9 L599.8 278.4 L601.7 278.9 L603.7 279.4 L605.6 280.0 L607.5 280.6 L609.4 281.2 L611.3 281.8 L613.2 282.4 L615.1 283.0 L617.0 283.6 L618.9 284.3 L620.8 284.9 L622.7 285.5 L624.6 286.1 L626.5 286.7 L628.5 287.3 L630.4 287.9 L632.3 288.5 L634.2 289.2 L636.1 289.8 L638.0 290.4 L639.8 291.1 L641.7 291.8 L643.6 292.5 L645.5 293.2 L647.3 293.9 L649.2 294.7 L651.0 295.4 L652.9 296.2 L654.8 296.9 L656.6 297.6 L658.5 298.4 L660.3 299.1 L662.2 299.9 L664.0 300.6 L665.9 301.4 L667.7 302.2 L669.6 302.9 L671.4 303.7 L673.3 304.5 L675.1 305.4 L676.9 306.2 L678.7 307.0 L680.5 307.8 L682.4 308.7 L684.2 309.5 L686.0 310.4 L687.8 311.2 L689.6 312.0 L691.4 312.9 L693.3 313.7 L695.1 314.5 L696.9 315.4 L698.7 316.2 L700.6 317.0 L702.4 317.8 L704.2 318.6 L706.1 319.4 L707.9 320.2 L709.7 321.0 L711.6 321.8 L713.4 322.6 L715.2 323.5 L716.9 324.4 L718.7 325.4 L720.4 326.4 L722.2 327.4 L723.9 328.4 L725.6 329.4 L727.3 330.5 L729.0 331.6 L730.6 332.7 L732.3 333.8 L733.9 335.0 L735.5 336.2 L737.0 337.4 L738.6 338.7 L740.2 339.9 L741.7 341.2 L743.3 342.5 L744.8 343.8 L746.2 345.1 L747.7 346.5 L749.1 347.9 L750.5 349.3 L751.9 350.8 L753.2 352.3 L754.6 353.7 L755.9 355.2 L757.3 356.7 L758.6 358.2 L760.0 359.7 L761.3 361.1 L762.6 362.6 L764.0 364.1 L765.3 365.7 L766.5 367.2 L767.8 368.7 L769.1 370.3 L770.3 371.9 L771.5 373.4 L772.8 375.0 L774.0 376.6 L775.3 378.1 L776.5 379.7 L777.8 381.2 L779.0 382.8 L780.2 384.4 L781.4 386.0 L782.5 387.7 L783.6 389.4 L784.7 391.0 L785.7 392.8 L786.7 394.5 L787.7 396.2 L788.7 398.0 L789.6 399.7 L790.5 401.5 L791.4 403.3 L792.3 405.1 L793.2 406.9 L794.1 408.7 L794.9 410.5 L795.7 412.3 L796.4 414.2 L797.1 416.1 L797.8 417.9 L798.5 419.8 L799.2 421.7 L799.9 423.6 L800.5 425.5 L801.2 427.4 L801.8 429.2 L802.5 431.1 L803.1 433.0 L803.8 434.9 L804.4 436.8 L804.9 438.8 L805.5 440.7 L806.0 442.6 L806.4 444.6 L806.8 446.5 L807.2 448.5 L807.5 450.5 L807.9 452.4 L808.2 454.4 L808.5 456.4 L808.8 458.3 L809.1 460.3 L809.5 462.3 L809.8 464.3 L810.1 466.3 L810.3 468.2 L810.6 470.2 L810.9 472.2 L811.2 474.2 L811.4 476.2 L811.7 478.2 L811.9 480.1 L812.1 482.1 L812.4 484.1 L812.6 486.1 L812.8 488.1 L813.1 490.1 L813.3 492.1 L813.5 494.1 L813.7 496.1 L813.9 498.0 L814.0 500.0 L814.2 502.0 L814.4 504.0 L814.6 506.0 L814.7 508.0 L814.9 510.0 L815.0 512.0 L815.1 514.0 L815.2 516.0 L815.3 518.0 L815.3 520.0 L815.4 522.0 L815.5 524.0 L815.5 526.0 L815.6 528.0 L815.7 530.0 L815.7 532.0 L815.8 534.0 L815.9 536.0 L815.9 538.0 L816.0 540.0 L817.0 581.0" fill="none" stroke="#ffff00" stroke-width="1.4" stroke-linejoin="round"/>
<path d="M236.0 242.8 L236.1 242.8 L238.4 242.8 L240.6 242.8 L242.7 242.9 L244.8 242.9 L246.9 242.9 L249.0 243.0 L251.1 243.0 L253.2 243.1 L255.3 243.1 L257.3 243.2 L259.4 243.2 L261.5 243.3 L263.5 243.3 L265.6 243.3 L267.6 243.4 L269.7 243.4 L271.7 243.5 L273.8 243.5 L275.8 243.6 L277.9 243.6 L279.9 243.6 L282.0 243.7 L284.0 243.7 L286.1 243.8 L288.1 243.8 L290.1 243.9 L292.2 243.9 L294.2 244.0 L296.3 244.0 L298.3 244.0 L300.3 244.1 L302.4 244.1 L304.4 244.2 L306.4 244.2 L308.5 244.3 L310.5 244.3 L312.6 244.3 L314.6 244.4 L316.6 244.4 L318.7 244.5 L320.7 244.5 L322.7 244.6 L324.8 244.6 L326.8 244.7 L328.8 244.7 L330.8 244.8 L332.9 244.9 L334.9 245.0 L336.9 245.1 L339.0 245.2 L341.0 245.3 L343.0 245.5 L345.0 245.6 L347.1 245.8 L349.1 245.9 L351.1 246.0 L353.1 246.2 L355.2 246.3 L357.2 246.5 L359.2 246.6 L361.2 246.7 L363.2 246.9 L365.3 247.0 L367.3 247.1 L369.3 247.3 L371.3 247.4 L373.4 247.6 L375.4 247.7 L377.4 247.9 L379.4 248.0 L381.4 248.2 L383.5 248.3 L385.5 248.5 L387.5 248.7 L389.5 248.9 L391.5 249.1 L393.5 249.3 L395.5 249.6 L397.6 249.8 L399.6 250.0 L401.6 250.2 L403.6 250.4 L405.6 250.6 L407.6 250.8 L409.6 251.1 L411.6 251.3 L413.7 251.5 L415.7 251.7 L417.7 251.9 L419.7 252.1 L421.7 252.4 L423.7 252.6 L425.7 252.8 L427.7 253.0 L429.7 253.2 L431.8 253.4 L433.8 253.6 L435.8 253.9 L437.8 254.1 L439.8 254.3 L441.8 254.5 L443.8 254.7 L445.8 254.9 L447.9 255.0 L449.9 255.2 L451.9 255.3 L453.9 255.5 L455.9 255.7 L457.9 255.8 L459.9 256.0 L462.0 256.1 L464.0 256.3 L466.0 256.4 L468.0 256.6 L470.0 256.7 L472.0 256.9 L474.1 257.0 L476.1 257.2 L478.1 257.3 L480.1 257.5 L482.1 257.6 L484.1 257.8 L486.1 257.9 L488.2 258.1 L490.2 258.3 L492.2 258.4 L494.2 258.6 L496.2 258.7 L498.2 258.9 L500.2 259.1 L502.2 259.3 L504.2 259.5 L506.2 259.8 L508.2 260.1 L510.2 260.5 L512.2 260.9 L514.2 261.3 L516.1 261.6 L518.1 262.0 L520.1 262.4 L522.1 262.8 L524.1 263.2 L526.1 263.5 L528.1 263.9 L530.0 264.2 L532.0 264.5 L534.0 264.9 L536.0 265.2 L538.0 265.5 L540.0 265.8 L542.0 266.2 L544.0 266.5 L546.0 266.8 L548.0 267.1 L550.0 267.5 L551.9 267.8 L553.9 268.1 L555.9 268.4 L557.9 268.8 L559.9 269.1 L561.9 269.4 L563.9 269.8 L565.9 270.2 L567.9 270.5 L569.8 270.9 L571.8 271.3 L573.8 271.7 L575.8 272.1 L577.7 272.5 L579.7 272.9 L581.7 273.3 L583.7 273.7 L585.6 274.1 L587.6 274.5 L589.6 275.0 L591.6 275.4 L593.5 275.8 L595.5 276.2 L597.5 276.6 L599.5 277.0 L601.4 277.4 L603.4 277.9 L605.3 278.4 L607.3 278.9 L609.2 279.4 L611.2 280.0 L613.1 280.6 L615.0 281.2 L616.9 281.8 L618.8 282.4 L620.8 283.0 L622.7 283.6 L624.6 284.3 L626.5 284.9 L628.4 285.5 L630.4 286.1 L632.3 286.7 L634.2 287.3 L636.1 287.9 L638.0 288.5 L640.0 289.2 L641.9 289.8 L643.8 290.4 L645.7 291.1 L647.6 291.8 L649.5 292.5 L651.3 293.2 L653.2 293.9 L655.1 294.7 L657.0 295.4 L658.8 296.2 L660.7 296.9 L662.6 297.6 L664.4 298.4 L666.3 299.1 L668.2 299.9 L670.1 300.6 L671.9 301.4 L673.8 302.2 L675.6 302.9 L677.5 303.7 L679.3 304.5 L681.2 305.4 L683.0 306.2 L684.8 307.0 L686.7 307.8 L688.5 308.7 L690.3 309.5 L692.2 310.4 L694.0 311.2 L695.8 312.0 L697.6 312.9 L699.5 313.7 L701.3 314.5 L703.1 315.4 L705.0 316.2 L706.8 317.0 L708.7 317.8 L710.5 318.6 L712.4 319.4 L714.2 320.2 L716.1 321.0 L717.9 321.8 L719.7 322.6 L721.5 323.5 L723.3 324.4 L725.1 325.4 L726.8 326.4 L728.6 327.4 L730.3 328.4 L732.0 329.4 L733.7 330.5 L735.4 331.6 L737.1 332.7 L738.7 333.8 L740.4 335.0 L742.0 336.2 L743.5 337.4 L745.1 338.7 L746.7 339.9 L748.3 341.2 L749.8 342.5 L751.3 343.8 L752.8 345.1 L754.3 346.5 L755.7 347.9 L757.1 349.3 L758.5 350.8 L759.8 352.3 L761.2 353.7 L762.6 355.2 L763.9 356.7 L765.3 358.2 L766.6 359.7 L768.0 361.1 L769.3 362.6 L770.6 364.1 L771.9 365.7 L773.2 367.2 L774.5 368.7 L775.8 370.3 L777.0 371.9 L778.3 373.4 L779.5 375.0 L780.8 376.6 L782.0 378.1 L783.3 379.7 L784.6 381.2 L785.8 382.8 L787.0 384.4 L788.2 386.0 L789.3 387.7 L790.4 389.4 L791.5 391.0 L792.5 392.8 L793.5 394.5 L794.5 396.2 L795.5 398.0 L796.4 399.7 L797.4 401.5 L798.3 403.3 L799.2 405.1 L800.1 406.9 L800.9 408.7 L801.8 410.5 L802.5 412.3 L803.3 414.2 L804.0 416.1 L804.7 417.9 L805.4 419.8 L806.1 421.7 L806.8 423.6 L807.4 425.5 L808.1 427.4 L808.8 429.2 L809.4 431.1 L810.1 433.0 L810.7 434.9 L811.3 436.8 L811.9 438.8 L812.4 440.7 L812.9 442.6 L813.3 444.6 L813.7 446.5 L814.1 448.5 L814.5 450.5 L814.8 452.4 L815.1 454.4 L815.5 456.4 L815.8 458.3 L816.1 460.3 L816.4 462.3 L816.7 464.3 L817.0 466.3 L817.3 468.2 L817.6 470.2 L817.9 472.2 L818.1 474.2 L818.4 476.2 L818.6 478.2 L818.9 480.1 L819.1 482.1 L819.4 484.1 L819.6 486.1 L819.8 488.1 L820.0 490.1 L820.3 492.1 L820.5 494.1 L820.7 496.1 L820.8 498.0 L821.0 500.0 L821.2 502.0 L821.4 504.0 L821.6 506.0 L821.7 508.0 L821.9 510.0 L822.0 512.0 L822.1 514.0 L822.2 516.0 L822.3 518.0 L822.3 520.0 L822.4 522.0 L822.5 524.0 L822.5 526.0 L822.6 528.0 L822.7 530.0 L822.7 532.0 L822.8 534.0 L822.9 536.0 L822.9 538.0 L823.0 540.0 L824.0 594.0" fill="none" stroke="#ffff00" stroke-width="1.4" stroke-linejoin="round"/>
<path d="M236.0 242.5 L236.1 242.5 L238.6 242.5 L240.9 242.6 L243.0 242.6 L245.2 242.7 L247.3 242.7 L249.5 242.8 L251.6 242.8 L253.7 242.8 L255.8 242.9 L257.9 242.9 L260.0 243.0 L262.1 243.0 L264.2 243.1 L266.2 243.1 L268.3 243.2 L270.4 243.2 L272.5 243.3 L274.5 243.3 L276.6 243.3 L278.7 243.4 L280.7 243.4 L282.8 243.5 L284.9 243.5 L286.9 243.6 L289.0 243.6 L291.0 243.7 L293.1 243.7 L295.2 243.7 L297.2 243.8 L299.3 243.8 L301.3 243.9 L303.4 243.9 L305.4 244.0 L307.5 244.0 L309.5 244.1 L311.6 244.1 L313.6 244.2 L315.7 244.2 L317.7 244.2 L319.8 244.3 L321.8 244.3 L323.9 244.4 L325.9 244.4 L328.0 244.5 L330.0 244.5 L332.0 244.6 L334.1 244.7 L336.1 244.8 L338.2 244.9 L340.2 245.0 L342.2 245.2 L344.3 245.3 L346.3 245.5 L348.4 245.6 L350.4 245.7 L352.4 245.9 L354.5 246.0 L356.5 246.2 L358.5 246.3 L360.6 246.4 L362.6 246.6 L364.6 246.7 L366.7 246.9 L368.7 247.0 L370.7 247.1 L372.8 247.3 L374.8 247.4 L376.8 247.6 L378.9 247.7 L380.9 247.9 L382.9 248.0 L385.0 248.2 L387.0 248.4 L389.0 248.6 L391.0 248.8 L393.1 249.0 L395.1 249.2 L397.1 249.4 L399.1 249.6 L401.1 249.9 L403.2 250.1 L405.2 250.3 L407.2 250.5 L409.2 250.7 L411.3 250.9 L413.3 251.2 L415.3 251.4 L417.3 251.6 L419.3 251.8 L421.4 252.0 L423.4 252.2 L425.4 252.5 L427.4 252.7 L429.4 252.9 L431.5 253.1 L433.5 253.3 L435.5 253.5 L437.5 253.8 L439.5 254.0 L441.6 254.2 L443.6 254.4 L445.6 254.6 L447.6 254.7 L449.7 254.9 L451.7 255.1 L453.7 255.2 L455.7 255.4 L457.7 255.6 L459.8 255.7 L461.8 255.9 L463.8 256.0 L465.8 256.2 L467.9 256.3 L469.9 256.5 L471.9 256.6 L473.9 256.8 L476.0 256.9 L478.0 257.1 L480.0 257.3 L482.0 257.4 L484.0 257.6 L486.1 257.7 L488.1 257.9 L490.1 258.0 L492.1 258.2 L494.2 258.3 L496.2 258.5 L498.2 258.7 L500.2 258.8 L502.2 259.0 L504.2 259.2 L506.3 259.5 L508.3 259.8 L510.3 260.1 L512.2 260.4 L514.2 260.8 L516.2 261.2 L518.2 261.6 L520.2 262.0 L522.2 262.4 L524.2 262.8 L526.2 263.1 L528.2 263.5 L530.2 263.8 L532.2 264.2 L534.2 264.5 L536.2 264.8 L538.2 265.2 L540.2 265.5 L542.2 265.8 L544.2 266.1 L546.2 266.5 L548.1 266.8 L550.1 267.1 L552.1 267.4 L554.1 267.8 L556.1 268.1 L558.1 268.4 L560.1 268.8 L562.1 269.1 L564.1 269.4 L566.1 269.8 L568.1 270.1 L570.1 270.5 L572.1 270.9 L574.1 271.3 L576.1 271.7 L578.0 272.1 L580.0 272.5 L582.0 272.9 L584.0 273.3 L586.0 273.7 L588.0 274.1 L589.9 274.5 L591.9 275.0 L593.9 275.4 L595.9 275.8 L597.9 276.2 L599.8 276.6 L601.8 277.0 L603.8 277.4 L605.8 277.9 L607.7 278.4 L609.7 278.9 L611.6 279.4 L613.6 280.0 L615.5 280.6 L617.4 281.2 L619.3 281.8 L621.3 282.4 L623.2 283.0 L625.1 283.6 L627.0 284.3 L629.0 284.9 L630.9 285.5 L632.8 286.1 L634.8 286.7 L636.7 287.3 L638.6 287.9 L640.5 288.5 L642.4 289.2 L644.4 289.8 L646.3 290.4 L648.2 291.1 L650.1 291.8 L652.0 292.5 L653.9 293.2 L655.7 293.9 L657.6 294.7 L659.5 295.4 L661.4 296.2 L663.3 296.9 L665.1 297.6 L667.0 298.4 L668.9 299.1 L670.8 299.9 L672.6 300.6 L674.5 301.4 L676.4 302.2 L678.2 302.9 L680.1 303.7 L681.9 304.5 L683.8 305.4 L685.6 306.2 L687.5 307.0 L689.3 307.8 L691.1 308.7 L693.0 309.5 L694.8 310.4 L696.6 311.2 L698.5 312.0 L700.3 312.9 L702.1 313.7 L704.0 314.5 L705.8 315.4 L707.7 316.2 L709.5 317.0 L711.4 317.8 L713.2 318.6 L715.1 319.4 L716.9 320.2 L718.8 321.0 L720.6 321.8 L722.5 322.6 L724.3 323.5 L726.1 324.4 L727.8 325.4 L729.6 326.4 L731.3 327.4 L733.1 328.4 L734.8 329.4 L736.5 330.5 L738.2 331.6 L739.9 332.7 L741.5 333.8 L743.1 335.0 L744.7 336.2 L746.3 337.4 L747.9 338.7 L749.5 339.9 L751.1 341.2 L752.6 342.5 L754.1 343.8 L755.6 345.1 L757.1 346.5 L758.5 347.9 L759.9 349.3 L761.3 350.8 L762.7 352.3 L764.0 353.7 L765.4 355.2 L766.8 356.7 L768.1 358.2 L769.5 359.7 L770.8 361.1 L772.2 362.6 L773.5 364.1 L774.8 365.7 L776.1 367.2 L777.4 368.7 L778.6 370.3 L779.9 371.9 L781.1 373.4 L782.4 375.0 L783.7 376.6 L784.9 378.1 L786.2 379.7 L787.5 381.2 L788.7 382.8 L789.9 384.4 L791.1 386.0 L792.2 387.7 L793.3 389.4 L794.4 391.0 L795.4 392.8 L796.4 394.5 L797.4 396.2 L798.4 398.0 L799.4 399.7 L800.3 401.5 L801.2 403.3 L802.1 405.1 L803.0 406.9 L803.9 408.7 L804.7 410.5 L805.5 412.3 L806.2 414.2 L807.0 416.1 L807.7 417.9 L808.4 419.8 L809.0 421.7 L809.7 423.6 L810.4 425.5 L811.1 427.4 L811.7 429.2 L812.4 431.1 L813.0 433.0 L813.6 434.9 L814.3 436.8 L814.8 438.8 L815.4 440.7 L815.9 442.6 L816.3 444.6 L816.7 446.5 L817.1 448.5 L817.4 450.5 L817.8 452.4 L818.1 454.4 L818.4 456.4 L818.8 458.3 L819.1 460.3 L819.4 462.3 L819.7 464.3 L820.0 466.3 L820.3 468.2 L820.6 470.2 L820.9 472.2 L821.1 474.2 L821.4 476.2 L821.6 478.2 L821.9 480.1 L822.1 482.1 L822.4 484.1 L822.6 486.1 L822.8 488.1 L823.0 490.1 L823.2 492.1 L823.4 494.1 L823.6 496.1 L823.8 498.0 L824.0 500.0 L824.2 502.0 L824.4 504.0 L824.6 506.0 L824.7 508.0 L824.9 510.0 L825.0 512.0 L825.1 514.0 L825.2 516.0 L825.3 518.0 L825.3 520.0 L825.4 522.0 L825.5 524.0 L825.5 526.0 L825.6 528.0 L825.7 530.0 L825.7 532.0 L825.8 534.0 L825.9 536.0 L825.9 538.0 L826.0 540.0 L827.0 600.0" fill="none" stroke="#ffff00" stroke-width="1.4" stroke-linejoin="round"/>
<path d="M236.0 242.3 L236.1 242.3 L238.7 242.4 L241.0 242.4 L243.2 242.5 L245.4 242.5 L247.6 242.6 L249.8 242.6 L251.9 242.6 L254.0 242.7 L256.1 242.7 L258.3 242.8 L260.4 242.8 L262.5 242.9 L264.6 242.9 L266.7 243.0 L268.8 243.0 L270.9 243.1 L272.9 243.1 L275.0 243.1 L277.1 243.2 L279.2 243.2 L281.3 243.3 L283.3 243.3 L285.4 243.4 L287.5 243.4 L289.6 243.5 L291.6 243.5 L293.7 243.6 L295.8 243.6 L297.8 243.7 L299.9 243.7 L302.0 243.7 L304.0 243.8 L306.1 243.8 L308.2 243.9 L310.2 243.9 L312.3 244.0 L314.3 244.0 L316.4 244.1 L318.5 244.1 L320.5 244.2 L322.6 244.2 L324.6 244.3 L326.7 244.3 L328.7 244.4 L330.8 244.4 L332.8 244.5 L334.9 244.6 L336.9 244.7 L339.0 244.8 L341.0 244.9 L343.1 245.1 L345.1 245.2 L347.2 245.3 L349.2 245.5 L351.3 245.6 L353.3 245.8 L355.3 245.9 L357.4 246.0 L359.4 246.2 L361.5 246.3 L363.5 246.5 L365.6 246.6 L367.6 246.7 L369.6 246.9 L371.7 247.0 L373.7 247.2 L375.8 247.3 L377.8 247.5 L379.8 247.6 L381.9 247.8 L383.9 247.9 L385.9 248.1 L388.0 248.3 L390.0 248.5 L392.0 248.7 L394.1 248.9 L396.1 249.1 L398.1 249.3 L400.2 249.5 L402.2 249.8 L404.2 250.0 L406.3 250.2 L408.3 250.4 L410.3 250.6 L412.3 250.9 L414.4 251.1 L416.4 251.3 L418.4 251.5 L420.5 251.7 L422.5 251.9 L424.5 252.2 L426.5 252.4 L428.6 252.6 L430.6 252.8 L432.6 253.0 L434.6 253.2 L436.7 253.5 L438.7 253.7 L440.7 253.9 L442.7 254.1 L444.8 254.3 L446.8 254.5 L448.8 254.7 L450.8 254.9 L452.9 255.0 L454.9 255.2 L456.9 255.3 L459.0 255.5 L461.0 255.7 L463.0 255.8 L465.1 256.0 L467.1 256.1 L469.1 256.3 L471.1 256.4 L473.2 256.6 L475.2 256.7 L477.2 256.9 L479.3 257.1 L481.3 257.2 L483.3 257.4 L485.3 257.5 L487.4 257.7 L489.4 257.8 L491.4 258.0 L493.4 258.1 L495.5 258.3 L497.5 258.5 L499.5 258.6 L501.6 258.8 L503.6 259.0 L505.6 259.2 L507.6 259.4 L509.6 259.7 L511.6 260.0 L513.6 260.4 L515.6 260.8 L517.6 261.2 L519.6 261.6 L521.6 261.9 L523.6 262.3 L525.6 262.7 L527.6 263.1 L529.6 263.5 L531.6 263.8 L533.6 264.1 L535.6 264.5 L537.6 264.8 L539.6 265.1 L541.6 265.5 L543.6 265.8 L545.6 266.1 L547.6 266.4 L549.6 266.8 L551.6 267.1 L553.6 267.4 L555.6 267.7 L557.6 268.1 L559.6 268.4 L561.6 268.7 L563.6 269.1 L565.6 269.4 L567.6 269.8 L569.6 270.1 L571.6 270.5 L573.6 270.9 L575.6 271.3 L577.6 271.7 L579.6 272.1 L581.5 272.5 L583.5 272.9 L585.5 273.3 L587.5 273.7 L589.5 274.1 L591.5 274.5 L593.5 275.0 L595.5 275.4 L597.4 275.8 L599.4 276.2 L601.4 276.6 L603.4 277.0 L605.4 277.4 L607.3 277.9 L609.3 278.4 L611.3 278.9 L613.2 279.4 L615.2 280.0 L617.1 280.6 L619.0 281.2 L620.9 281.8 L622.9 282.4 L624.8 283.0 L626.7 283.6 L628.7 284.3 L630.6 284.9 L632.5 285.5 L634.5 286.1 L636.4 286.7 L638.3 287.3 L640.3 287.9 L642.2 288.5 L644.1 289.2 L646.0 289.8 L647.9 290.4 L649.9 291.1 L651.8 291.8 L653.7 292.5 L655.5 293.2 L657.4 293.9 L659.3 294.7 L661.2 295.4 L663.1 296.2 L665.0 296.9 L666.8 297.6 L668.7 298.4 L670.6 299.1 L672.5 299.9 L674.4 300.6 L676.2 301.4 L678.1 302.2 L680.0 302.9 L681.8 303.7 L683.7 304.5 L685.5 305.4 L687.4 306.2 L689.2 307.0 L691.0 307.8 L692.9 308.7 L694.7 309.5 L696.6 310.4 L698.4 311.2 L700.2 312.0 L702.1 312.9 L703.9 313.7 L705.8 314.5 L707.6 315.4 L709.5 316.2 L711.3 317.0 L713.2 317.8 L715.0 318.6 L716.9 319.4 L718.7 320.2 L720.6 321.0 L722.4 321.8 L724.3 322.6 L726.1 323.5 L727.9 324.4 L729.6 325.4 L731.4 326.4 L733.1 327.4 L734.9 328.4 L736.6 329.4 L738.3 330.5 L740.0 331.6 L741.7 332.7 L743.4 333.8 L745.0 335.0 L746.6 336.2 L748.2 337.4 L749.8 338.7 L751.4 339.9 L752.9 341.2 L754.5 342.5 L756.0 343.8 L757.5 345.1 L759.0 346.5 L760.4 347.9 L761.8 349.3 L763.2 350.8 L764.6 352.3 L765.9 353.7 L767.3 355.2 L768.7 356.7 L770.0 358.2 L771.4 359.7 L772.7 361.1 L774.1 362.6 L775.4 364.1 L776.7 365.7 L778.0 367.2 L779.3 368.7 L780.6 370.3 L781.8 371.9 L783.1 373.4 L784.3 375.0 L785.6 376.6 L786.9 378.1 L788.1 379.7 L789.4 381.2 L790.6 382.8 L791.9 384.4 L793.0 386.0 L794.2 387.7 L795.3 389.4 L796.3 391.0 L797.4 392.8 L798.4 394.5 L799.4 396.2 L800.4 398.0 L801.3 399.7 L802.3 401.5 L803.2 403.3 L804.1 405.1 L805.0 406.9 L805.8 408.7 L806.7 410.5 L807.5 412.3 L808.2 414.2 L808.9 416.1 L809.6 417.9 L810.3 419.8 L811.0 421.7 L811.7 423.6 L812.4 425.5 L813.0 427.4 L813.7 429.2 L814.4 431.1 L815.0 433.0 L815.6 434.9 L816.2 436.8 L816.8 438.8 L817.4 440.7 L817.9 442.6 L818.3 444.6 L818.7 446.5 L819.1 448.5 L819.4 450.5 L819.8 452.4 L820.1 454.4 L820.4 456.4 L820.7 458.3 L821.1 460.3 L821.4 462.3 L821.7 464.3 L822.0 466.3 L822.3 468.2 L822.6 470.2 L822.8 472.2 L823.1 474.2 L823.4 476.2 L823.6 478.2 L823.9 480.1 L824.1 482.1 L824.3 484.1 L824.6 486.1 L824.8 488.1 L825.0 490.1 L825.2 492.1 L825.4 494.1 L825.6 496.1 L825.8 498.0 L826.0 500.0 L826.2 502.0 L826.4 504.0 L826.6 506.0 L826.7 508.0 L826.9 510.0 L827.0 512.0 L827.1 514.0 L827.2 516.0 L827.3 518.0 L827.3 520.0 L827.4 522.0 L827.5 524.0 L827.5 526.0 L827.6 528.0 L827.7 530.0 L827.7 532.0 L827.8 534.0 L827.9 536.0 L827.9 538.0 L828.0 540.0 L829.0 592.0" fill="none" stroke="#ffff00" stroke-width="1.4" stroke-linejoin="round"/>
<path d="M236.0 242.2 L236.1 242.2 L238.8 242.2 L241.2 242.3 L243.5 242.3 L245.7 242.3 L247.9 242.4 L250.0 242.4 L252.2 242.5 L254.4 242.5 L256.5 242.6 L258.6 242.6 L260.8 242.7 L262.9 242.7 L265.0 242.8 L267.1 242.8 L269.2 242.9 L271.3 242.9 L273.4 243.0 L275.5 243.0 L277.6 243.1 L279.7 243.1 L281.8 243.1 L283.9 243.2 L286.0 243.2 L288.1 243.3 L290.2 243.3 L292.2 243.4 L294.3 243.4 L296.4 243.5 L298.5 243.5 L300.6 243.6 L302.6 243.6 L304.7 243.7 L306.8 243.7 L308.8 243.8 L310.9 243.8 L313.0 243.8 L315.1 243.9 L317.1 243.9 L319.2 244.0 L321.3 244.0 L323.3 244.1 L325.4 244.1 L327.4 244.2 L329.5 244.2 L331.6 244.3 L333.6 244.4 L335.7 244.5 L337.8 244.6 L339.8 244.7 L341.9 244.8 L343.9 244.9 L346.0 245.1 L348.0 245.2 L350.1 245.4 L352.1 245.5 L354.2 245.6 L356.2 245.8 L358.3 245.9 L360.3 246.1 L362.4 246.2 L364.4 246.4 L366.5 246.5 L368.5 246.6 L370.6 246.8 L372.6 246.9 L374.7 247.1 L376.7 247.2 L378.8 247.4 L380.8 247.5 L382.9 247.7 L384.9 247.8 L386.9 248.0 L389.0 248.2 L391.0 248.4 L393.1 248.6 L395.1 248.8 L397.1 249.0 L399.2 249.2 L401.2 249.5 L403.2 249.7 L405.3 249.9 L407.3 250.1 L409.4 250.3 L411.4 250.5 L413.4 250.8 L415.5 251.0 L417.5 251.2 L419.5 251.4 L421.6 251.6 L423.6 251.9 L425.6 252.1 L427.7 252.3 L429.7 252.5 L431.7 252.7 L433.8 253.0 L435.8 253.2 L437.8 253.4 L439.8 253.6 L441.9 253.8 L443.9 254.0 L445.9 254.2 L448.0 254.4 L450.0 254.6 L452.0 254.8 L454.1 255.0 L456.1 255.1 L458.2 255.3 L460.2 255.4 L462.2 255.6 L464.3 255.7 L466.3 255.9 L468.3 256.1 L470.4 256.2 L472.4 256.4 L474.4 256.5 L476.5 256.7 L478.5 256.8 L480.5 257.0 L482.6 257.2 L484.6 257.3 L486.6 257.5 L488.7 257.6 L490.7 257.8 L492.7 257.9 L494.8 258.1 L496.8 258.2 L498.8 258.4 L500.9 258.6 L502.9 258.7 L504.9 258.9 L506.9 259.1 L509.0 259.4 L511.0 259.7 L513.0 260.0 L515.0 260.4 L517.0 260.7 L519.0 261.1 L521.0 261.5 L523.0 261.9 L525.0 262.3 L527.0 262.7 L529.0 263.1 L531.0 263.4 L533.0 263.8 L535.0 264.1 L537.0 264.5 L539.0 264.8 L541.0 265.1 L543.0 265.4 L545.0 265.8 L547.0 266.1 L549.0 266.4 L551.0 266.7 L553.1 267.1 L555.1 267.4 L557.1 267.7 L559.1 268.1 L561.1 268.4 L563.1 268.7 L565.1 269.1 L567.1 269.4 L569.1 269.8 L571.1 270.1 L573.1 270.5 L575.1 270.9 L577.1 271.3 L579.1 271.7 L581.1 272.1 L583.1 272.5 L585.1 272.9 L587.1 273.3 L589.0 273.7 L591.0 274.1 L593.0 274.5 L595.0 274.9 L597.0 275.4 L599.0 275.8 L601.0 276.2 L603.0 276.6 L605.0 277.0 L606.9 277.4 L608.9 277.9 L610.9 278.4 L612.9 278.9 L614.8 279.4 L616.7 280.0 L618.7 280.6 L620.6 281.2 L622.6 281.8 L624.5 282.4 L626.4 283.0 L628.4 283.6 L630.3 284.3 L632.2 284.9 L634.2 285.5 L636.1 286.1 L638.0 286.7 L640.0 287.3 L641.9 287.9 L643.8 288.5 L645.8 289.2 L647.7 289.8 L649.6 290.4 L651.5 291.1 L653.4 291.8 L655.3 292.5 L657.2 293.2 L659.1 293.9 L661.0 294.7 L662.9 295.4 L664.8 296.2 L666.7 296.9 L668.5 297.6 L670.4 298.4 L672.3 299.1 L674.2 299.9 L676.1 300.6 L677.9 301.4 L679.8 302.2 L681.7 302.9 L683.6 303.7 L685.4 304.5 L687.3 305.4 L689.1 306.2 L690.9 307.0 L692.8 307.8 L694.6 308.7 L696.5 309.5 L698.3 310.4 L700.2 311.2 L702.0 312.0 L703.9 312.9 L705.7 313.7 L707.5 314.5 L709.4 315.4 L711.2 316.2 L713.1 317.0 L715.0 317.8 L716.8 318.6 L718.7 319.4 L720.5 320.2 L722.4 321.0 L724.2 321.8 L726.1 322.6 L727.9 323.5 L729.7 324.4 L731.5 325.4 L733.2 326.4 L735.0 327.4 L736.7 328.4 L738.4 329.4 L740.2 330.5 L741.9 331.6 L743.5 332.7 L745.2 333.8 L746.8 335.0 L748.5 336.2 L750.1 337.4 L751.6 338.7 L753.2 339.9 L754.8 341.2 L756.3 342.5 L757.9 343.8 L759.4 345.1 L760.8 346.5 L762.3 347.9 L763.7 349.3 L765.1 350.8 L766.4 352.3 L767.8 353.7 L769.2 355.2 L770.5 356.7 L771.9 358.2 L773.3 359.7 L774.6 361.1 L776.0 362.6 L777.3 364.1 L778.6 365.7 L779.9 367.2 L781.2 368.7 L782.5 370.3 L783.7 371.9 L785.0 373.4 L786.2 375.0 L787.5 376.6 L788.8 378.1 L790.1 379.7 L791.3 381.2 L792.6 382.8 L793.8 384.4 L795.0 386.0 L796.1 387.7 L797.2 389.4 L798.3 391.0 L799.3 392.8 L800.3 394.5 L801.3 396.2 L802.3 398.0 L803.3 399.7 L804.2 401.5 L805.1 403.3 L806.1 405.1 L806.9 406.9 L807.8 408.7 L808.6 410.5 L809.4 412.3 L810.2 414.2 L810.9 416.1 L811.6 417.9 L812.3 419.8 L813.0 421.7 L813.7 423.6 L814.3 425.5 L815.0 427.4 L815.7 429.2 L816.3 431.1 L817.0 433.0 L817.6 434.9 L818.2 436.8 L818.8 438.8 L819.3 440.7 L819.8 442.6 L820.3 444.6 L820.7 446.5 L821.1 448.5 L821.4 450.5 L821.8 452.4 L822.1 454.4 L822.4 456.4 L822.7 458.3 L823.1 460.3 L823.4 462.3 L823.7 464.3 L824.0 466.3 L824.3 468.2 L824.6 470.2 L824.8 472.2 L825.1 474.2 L825.4 476.2 L825.6 478.2 L825.9 480.1 L826.1 482.1 L826.3 484.1 L826.6 486.1 L826.8 488.1 L827.0 490.1 L827.2 492.1 L827.4 494.1 L827.6 496.1 L827.8 498.0 L828.0 500.0 L828.2 502.0 L828.4 504.0 L828.6 506.0 L828.7 508.0 L828.9 510.0 L829.0 512.0 L829.1 514.0 L829.2 516.0 L829.3 518.0 L829.3 520.0 L829.4 522.0 L829.5 524.0 L829.5 526.0 L829.6 528.0 L829.7 530.0 L829.7 532.0 L829.8 534.0 L829.9 536.0 L829.9 538.0 L830.0 540.0 L831.0 598.0" fill="none" stroke="#ffff00" stroke-width="1.4" stroke-linejoin="round"/>
<path d="M236.0 241.7 L236.1 241.7 L239.2 241.7 L241.7 241.8 L244.1 241.8 L246.4 241.9 L248.7 241.9 L250.9 242.0 L253.1 242.0 L255.4 242.1 L257.6 242.1 L259.7 242.2 L261.9 242.2 L264.1 242.3 L266.3 242.3 L268.4 242.4 L270.6 242.4 L272.7 242.5 L274.9 242.5 L277.0 242.6 L279.2 242.6 L281.3 242.7 L283.4 242.7 L285.6 242.8 L287.7 242.8 L289.8 242.9 L291.9 242.9 L294.0 243.0 L296.1 243.0 L298.3 243.1 L300.4 243.1 L302.5 243.2 L304.6 243.2 L306.7 243.3 L308.8 243.3 L310.9 243.4 L313.0 243.4 L315.1 243.5 L317.2 243.5 L319.3 243.6 L321.4 243.6 L323.5 243.7 L325.6 243.7 L327.7 243.8 L329.8 243.8 L331.9 243.9 L333.9 243.9 L336.0 244.0 L338.1 244.1 L340.2 244.2 L342.3 244.3 L344.4 244.5 L346.4 244.6 L348.5 244.7 L350.6 244.9 L352.7 245.0 L354.7 245.2 L356.8 245.3 L358.9 245.5 L361.0 245.6 L363.0 245.8 L365.1 245.9 L367.2 246.0 L369.3 246.2 L371.3 246.3 L373.4 246.5 L375.5 246.6 L377.5 246.8 L379.6 246.9 L381.7 247.1 L383.7 247.2 L385.8 247.4 L387.9 247.5 L389.9 247.7 L392.0 247.9 L394.1 248.1 L396.1 248.3 L398.2 248.5 L400.2 248.7 L402.3 249.0 L404.3 249.2 L406.4 249.4 L408.5 249.6 L410.5 249.9 L412.6 250.1 L414.6 250.3 L416.7 250.5 L418.7 250.7 L420.8 251.0 L422.8 251.2 L424.9 251.4 L426.9 251.6 L429.0 251.8 L431.0 252.1 L433.1 252.3 L435.1 252.5 L437.2 252.7 L439.2 253.0 L441.3 253.2 L443.3 253.4 L445.4 253.6 L447.4 253.8 L449.5 254.0 L451.5 254.2 L453.6 254.4 L455.6 254.6 L457.7 254.8 L459.7 254.9 L461.8 255.1 L463.8 255.2 L465.9 255.4 L467.9 255.6 L470.0 255.7 L472.1 255.9 L474.1 256.0 L476.2 256.2 L478.2 256.4 L480.3 256.5 L482.3 256.7 L484.4 256.8 L486.4 257.0 L488.5 257.2 L490.5 257.3 L492.5 257.5 L494.6 257.6 L496.6 257.8 L498.7 257.9 L500.7 258.1 L502.8 258.3 L504.8 258.4 L506.9 258.6 L508.9 258.8 L511.0 259.0 L513.0 259.3 L515.0 259.6 L517.0 259.9 L519.1 260.3 L521.1 260.6 L523.1 261.0 L525.1 261.4 L527.1 261.8 L529.1 262.2 L531.1 262.6 L533.2 263.0 L535.2 263.3 L537.2 263.7 L539.2 264.0 L541.2 264.4 L543.3 264.7 L545.3 265.0 L547.3 265.4 L549.3 265.7 L551.4 266.0 L553.4 266.4 L555.4 266.7 L557.4 267.0 L559.4 267.3 L561.5 267.7 L563.5 268.0 L565.5 268.3 L567.5 268.7 L569.5 269.0 L571.6 269.4 L573.6 269.7 L575.6 270.1 L577.6 270.5 L579.6 270.9 L581.6 271.3 L583.6 271.7 L585.6 272.1 L587.6 272.5 L589.6 272.9 L591.7 273.3 L593.7 273.7 L595.7 274.1 L597.7 274.5 L599.7 274.9 L601.7 275.4 L603.7 275.8 L605.7 276.2 L607.7 276.6 L609.7 277.0 L611.7 277.4 L613.7 277.9 L615.6 278.4 L617.6 278.9 L619.6 279.4 L621.5 280.0 L623.5 280.6 L625.4 281.2 L627.4 281.8 L629.3 282.4 L631.3 283.0 L633.2 283.6 L635.2 284.3 L637.1 284.9 L639.1 285.5 L641.0 286.1 L643.0 286.7 L644.9 287.3 L646.8 287.9 L648.8 288.5 L650.7 289.2 L652.7 289.8 L654.6 290.4 L656.5 291.1 L658.4 291.8 L660.4 292.5 L662.3 293.2 L664.2 293.9 L666.1 294.7 L668.0 295.4 L669.9 296.2 L671.7 296.9 L673.6 297.6 L675.5 298.4 L677.4 299.1 L679.3 299.9 L681.2 300.6 L683.1 301.4 L685.0 302.2 L686.9 302.9 L688.7 303.7 L690.6 304.5 L692.5 305.4 L694.3 306.2 L696.2 307.0 L698.0 307.8 L699.9 308.7 L701.8 309.5 L703.6 310.4 L705.5 311.2 L707.3 312.0 L709.2 312.9 L711.0 313.7 L712.9 314.5 L714.7 315.4 L716.6 316.2 L718.5 317.0 L720.3 317.8 L722.2 318.6 L724.1 319.4 L726.0 320.2 L727.8 321.0 L729.7 321.8 L731.5 322.6 L733.4 323.5 L735.2 324.4 L736.9 325.4 L738.7 326.4 L740.5 327.4 L742.2 328.4 L744.0 329.4 L745.7 330.5 L747.4 331.6 L749.1 332.7 L750.8 333.8 L752.4 335.0 L754.0 336.2 L755.6 337.4 L757.2 338.7 L758.8 339.9 L760.4 341.2 L762.0 342.5 L763.5 343.8 L765.0 345.1 L766.5 346.5 L767.9 347.9 L769.3 349.3 L770.7 350.8 L772.1 352.3 L773.5 353.7 L774.9 355.2 L776.2 356.7 L777.6 358.2 L779.0 359.7 L780.3 361.1 L781.7 362.6 L783.0 364.1 L784.4 365.7 L785.7 367.2 L787.0 368.7 L788.2 370.3 L789.5 371.9 L790.8 373.4 L792.0 375.0 L793.3 376.6 L794.6 378.1 L795.9 379.7 L797.1 381.2 L798.4 382.8 L799.6 384.4 L800.8 386.0 L801.9 387.7 L803.0 389.4 L804.1 391.0 L805.2 392.8 L806.2 394.5 L807.2 396.2 L808.2 398.0 L809.1 399.7 L810.1 401.5 L811.0 403.3 L811.9 405.1 L812.8 406.9 L813.7 408.7 L814.5 410.5 L815.3 412.3 L816.1 414.2 L816.8 416.1 L817.5 417.9 L818.2 419.8 L818.9 421.7 L819.6 423.6 L820.3 425.5 L820.9 427.4 L821.6 429.2 L822.3 431.1 L822.9 433.0 L823.5 434.9 L824.2 436.8 L824.7 438.8 L825.3 440.7 L825.8 442.6 L826.2 444.6 L826.6 446.5 L827.0 448.5 L827.4 450.5 L827.7 452.4 L828.0 454.4 L828.4 456.4 L828.7 458.3 L829.0 460.3 L829.3 462.3 L829.7 464.3 L830.0 466.3 L830.3 468.2 L830.5 470.2 L830.8 472.2 L831.1 474.2 L831.3 476.2 L831.6 478.2 L831.8 480.1 L832.1 482.1 L832.3 484.1 L832.6 486.1 L832.8 488.1 L833.0 490.1 L833.2 492.1 L833.4 494.1 L833.6 496.1 L833.8 498.0 L834.0 500.0 L834.2 502.0 L834.4 504.0 L834.6 506.0 L834.7 508.0 L834.9 510.0 L835.0 512.0 L835.1 514.0 L835.2 516.0 L835.2 518.0 L835.3 520.0 L835.4 522.0 L835.5 524.0 L835.5 526.0 L835.6 528.0 L835.7 530.0 L835.7 532.0 L835.8 534.0 L835.9 536.0 L835.9 538.0 L836.0 540.0 L837.0 588.0" fill="none" stroke="#ffff00" stroke-width="1.4" stroke-linejoin="round"/>
<path d="M236.0 241.5 L236.2 241.5 L239.4 241.5 L241.9 241.6 L244.3 241.6 L246.7 241.7 L249.0 241.7 L251.3 241.8 L253.5 241.8 L255.8 241.9 L258.0 241.9 L260.2 242.0 L262.4 242.0 L264.6 242.1 L266.8 242.1 L269.0 242.2 L271.2 242.2 L273.3 242.3 L275.5 242.3 L277.6 242.4 L279.8 242.4 L281.9 242.5 L284.1 242.5 L286.2 242.6 L288.4 242.6 L290.5 242.7 L292.7 242.7 L294.8 242.8 L296.9 242.8 L299.0 242.9 L301.2 242.9 L303.3 243.0 L305.4 243.0 L307.5 243.1 L309.6 243.1 L311.8 243.2 L313.9 243.2 L316.0 243.3 L318.1 243.3 L320.2 243.4 L322.3 243.5 L324.4 243.5 L326.5 243.6 L328.6 243.6 L330.7 243.7 L332.8 243.7 L334.9 243.8 L337.0 243.9 L339.1 244.0 L341.2 244.1 L343.3 244.2 L345.4 244.3 L347.5 244.5 L349.6 244.6 L351.7 244.7 L353.7 244.9 L355.8 245.0 L357.9 245.2 L360.0 245.3 L362.1 245.5 L364.2 245.6 L366.3 245.8 L368.3 245.9 L370.4 246.1 L372.5 246.2 L374.6 246.3 L376.7 246.5 L378.7 246.6 L380.8 246.8 L382.9 246.9 L385.0 247.1 L387.0 247.2 L389.1 247.4 L391.2 247.6 L393.3 247.8 L395.3 248.0 L397.4 248.2 L399.5 248.4 L401.5 248.6 L403.6 248.9 L405.6 249.1 L407.7 249.3 L409.8 249.5 L411.8 249.7 L413.9 250.0 L416.0 250.2 L418.0 250.4 L420.1 250.6 L422.1 250.9 L424.2 251.1 L426.3 251.3 L428.3 251.5 L430.4 251.7 L432.4 252.0 L434.5 252.2 L436.6 252.4 L438.6 252.6 L440.7 252.9 L442.7 253.1 L444.8 253.3 L446.8 253.5 L448.9 253.7 L451.0 253.9 L453.0 254.1 L455.1 254.3 L457.1 254.5 L459.2 254.7 L461.2 254.8 L463.3 255.0 L465.4 255.2 L467.4 255.3 L469.5 255.5 L471.5 255.6 L473.6 255.8 L475.7 256.0 L477.7 256.1 L479.8 256.3 L481.8 256.4 L483.9 256.6 L485.9 256.8 L488.0 256.9 L490.1 257.1 L492.1 257.3 L494.2 257.4 L496.2 257.6 L498.3 257.7 L500.3 257.9 L502.4 258.1 L504.4 258.2 L506.5 258.4 L508.5 258.6 L510.6 258.8 L512.6 259.0 L514.7 259.2 L516.7 259.5 L518.7 259.8 L520.8 260.2 L522.8 260.6 L524.8 261.0 L526.8 261.4 L528.8 261.8 L530.9 262.2 L532.9 262.6 L534.9 262.9 L536.9 263.3 L539.0 263.6 L541.0 264.0 L543.0 264.3 L545.0 264.7 L547.1 265.0 L549.1 265.3 L551.1 265.7 L553.2 266.0 L555.2 266.3 L557.2 266.7 L559.2 267.0 L561.3 267.3 L563.3 267.7 L565.3 268.0 L567.4 268.3 L569.4 268.7 L571.4 269.0 L573.4 269.3 L575.4 269.7 L577.5 270.1 L579.5 270.4 L581.5 270.8 L583.5 271.2 L585.5 271.7 L587.5 272.1 L589.5 272.5 L591.6 272.9 L593.6 273.3 L595.6 273.7 L597.6 274.1 L599.6 274.5 L601.6 274.9 L603.6 275.4 L605.6 275.8 L607.6 276.2 L609.6 276.6 L611.6 277.0 L613.6 277.4 L615.6 277.9 L617.6 278.4 L619.6 278.9 L621.6 279.4 L623.5 280.0 L625.5 280.6 L627.4 281.2 L629.4 281.8 L631.3 282.4 L633.3 283.0 L635.3 283.6 L637.2 284.3 L639.2 284.9 L641.1 285.5 L643.1 286.1 L645.0 286.7 L647.0 287.3 L648.9 287.9 L650.9 288.5 L652.8 289.2 L654.7 289.8 L656.7 290.4 L658.6 291.1 L660.5 291.8 L662.5 292.5 L664.4 293.2 L666.3 293.9 L668.2 294.7 L670.1 295.4 L672.0 296.2 L673.9 296.9 L675.8 297.6 L677.7 298.4 L679.6 299.1 L681.5 299.9 L683.4 300.6 L685.3 301.4 L687.2 302.2 L689.0 302.9 L690.9 303.7 L692.8 304.5 L694.7 305.4 L696.5 306.2 L698.4 307.0 L700.2 307.8 L702.1 308.7 L704.0 309.5 L705.8 310.4 L707.7 311.2 L709.5 312.0 L711.4 312.9 L713.2 313.7 L715.1 314.5 L717.0 315.4 L718.8 316.2 L720.7 317.0 L722.6 317.8 L724.5 318.6 L726.3 319.4 L728.2 320.2 L730.1 321.0 L731.9 321.8 L733.8 322.6 L735.6 323.5 L737.4 324.4 L739.2 325.4 L741.0 326.4 L742.8 327.4 L744.5 328.4 L746.3 329.4 L748.0 330.5 L749.7 331.6 L751.4 332.7 L753.1 333.8 L754.7 335.0 L756.3 336.2 L758.0 337.4 L759.6 338.7 L761.1 339.9 L762.7 341.2 L764.3 342.5 L765.8 343.8 L767.4 345.1 L768.8 346.5 L770.3 347.9 L771.7 349.3 L773.1 350.8 L774.5 352.3 L775.9 353.7 L777.2 355.2 L778.6 356.7 L780.0 358.2 L781.4 359.7 L782.7 361.1 L784.1 362.6 L785.4 364.1 L786.8 365.7 L788.1 367.2 L789.3 368.7 L790.6 370.3 L791.9 371.9 L793.2 373.4 L794.4 375.0 L795.7 376.6 L797.0 378.1 L798.3 379.7 L799.5 381.2 L800.8 382.8 L802.0 384.4 L803.2 386.0 L804.4 387.7 L805.5 389.4 L806.5 391.0 L807.6 392.8 L808.6 394.5 L809.6 396.2 L810.6 398.0 L811.6 399.7 L812.5 401.5 L813.5 403.3 L814.4 405.1 L815.3 406.9 L816.1 408.7 L817.0 410.5 L817.8 412.3 L818.5 414.2 L819.3 416.1 L820.0 417.9 L820.7 419.8 L821.4 421.7 L822.1 423.6 L822.7 425.5 L823.4 427.4 L824.1 429.2 L824.7 431.1 L825.4 433.0 L826.0 434.9 L826.6 436.8 L827.2 438.8 L827.8 440.7 L828.3 442.6 L828.7 444.6 L829.1 446.5 L829.5 448.5 L829.9 450.5 L830.2 452.4 L830.5 454.4 L830.9 456.4 L831.2 458.3 L831.5 460.3 L831.8 462.3 L832.1 464.3 L832.4 466.3 L832.7 468.2 L833.0 470.2 L833.3 472.2 L833.6 474.2 L833.8 476.2 L834.1 478.2 L834.3 480.1 L834.6 482.1 L834.8 484.1 L835.1 486.1 L835.3 488.1 L835.5 490.1 L835.7 492.1 L835.9 494.1 L836.1 496.1 L836.3 498.0 L836.5 500.0 L836.7 502.0 L836.9 504.0 L837.1 506.0 L837.2 508.0 L837.4 510.0 L837.5 512.0 L837.6 514.0 L837.7 516.0 L837.7 518.0 L837.8 520.0 L837.9 522.0 L838.0 524.0 L838.0 526.0 L838.1 528.0 L838.2 530.0 L838.2 532.0 L838.3 534.0 L838.4 536.0 L838.4 538.0 L838.5 540.0 L839.5 608.6" fill="none" stroke="#ffff00" stroke-width="1.4" stroke-linejoin="round"/>
<path d="M236.0 241.3 L236.2 241.3 L239.5 241.4 L242.1 241.4 L244.5 241.5 L246.9 241.5 L249.2 241.6 L251.6 241.6 L253.8 241.7 L256.1 241.7 L258.3 241.8 L260.6 241.8 L262.8 241.9 L265.0 241.9 L267.2 242.0 L269.4 242.0 L271.6 242.1 L273.8 242.1 L276.0 242.2 L278.1 242.2 L280.3 242.3 L282.5 242.3 L284.6 242.4 L286.8 242.4 L288.9 242.5 L291.1 242.5 L293.2 242.6 L295.4 242.6 L297.5 242.7 L299.7 242.8 L301.8 242.8 L303.9 242.9 L306.1 242.9 L308.2 243.0 L310.3 243.0 L312.4 243.1 L314.6 243.1 L316.7 243.2 L318.8 243.2 L320.9 243.3 L323.0 243.3 L325.2 243.4 L327.3 243.4 L329.4 243.5 L331.5 243.5 L333.6 243.6 L335.7 243.7 L337.8 243.7 L339.9 243.8 L342.0 243.9 L344.1 244.1 L346.2 244.2 L348.3 244.3 L350.4 244.5 L352.5 244.6 L354.6 244.8 L356.7 244.9 L358.8 245.1 L360.9 245.2 L363.0 245.4 L365.1 245.5 L367.2 245.7 L369.3 245.8 L371.3 245.9 L373.4 246.1 L375.5 246.2 L377.6 246.4 L379.7 246.5 L381.8 246.7 L383.9 246.8 L385.9 247.0 L388.0 247.1 L390.1 247.3 L392.2 247.5 L394.3 247.7 L396.3 247.9 L398.4 248.1 L400.5 248.3 L402.5 248.5 L404.6 248.8 L406.7 249.0 L408.8 249.2 L410.8 249.4 L412.9 249.7 L415.0 249.9 L417.0 250.1 L419.1 250.3 L421.2 250.6 L423.2 250.8 L425.3 251.0 L427.4 251.2 L429.4 251.4 L431.5 251.7 L433.6 251.9 L435.6 252.1 L437.7 252.3 L439.8 252.6 L441.8 252.8 L443.9 253.0 L445.9 253.2 L448.0 253.5 L450.1 253.7 L452.1 253.9 L454.2 254.1 L456.3 254.3 L458.3 254.4 L460.4 254.6 L462.5 254.8 L464.5 254.9 L466.6 255.1 L468.7 255.3 L470.7 255.4 L472.8 255.6 L474.8 255.8 L476.9 255.9 L479.0 256.1 L481.0 256.2 L483.1 256.4 L485.2 256.6 L487.2 256.7 L489.3 256.9 L491.3 257.0 L493.4 257.2 L495.5 257.4 L497.5 257.5 L499.6 257.7 L501.6 257.8 L503.7 258.0 L505.8 258.2 L507.8 258.3 L509.9 258.5 L511.9 258.7 L514.0 258.9 L516.0 259.2 L518.1 259.5 L520.1 259.8 L522.1 260.2 L524.2 260.5 L526.2 260.9 L528.2 261.3 L530.2 261.7 L532.3 262.1 L534.3 262.5 L536.3 262.9 L538.3 263.3 L540.4 263.6 L542.4 264.0 L544.4 264.3 L546.5 264.6 L548.5 265.0 L550.5 265.3 L552.6 265.6 L554.6 266.0 L556.6 266.3 L558.7 266.6 L560.7 267.0 L562.7 267.3 L564.8 267.6 L566.8 268.0 L568.8 268.3 L570.9 268.6 L572.9 269.0 L574.9 269.3 L576.9 269.7 L579.0 270.1 L581.0 270.4 L583.0 270.8 L585.0 271.2 L587.0 271.6 L589.1 272.1 L591.1 272.5 L593.1 272.9 L595.1 273.3 L597.1 273.7 L599.1 274.1 L601.1 274.5 L603.2 274.9 L605.2 275.4 L607.2 275.8 L609.2 276.2 L611.2 276.6 L613.2 277.0 L615.2 277.4 L617.2 277.9 L619.2 278.4 L621.2 278.9 L623.2 279.4 L625.1 280.0 L627.1 280.6 L629.0 281.2 L631.0 281.8 L633.0 282.4 L634.9 283.0 L636.9 283.6 L638.8 284.3 L640.8 284.9 L642.7 285.5 L644.7 286.1 L646.6 286.7 L648.6 287.3 L650.6 287.9 L652.5 288.5 L654.5 289.2 L656.4 289.8 L658.4 290.4 L660.3 291.1 L662.2 291.8 L664.1 292.5 L666.0 293.2 L668.0 293.9 L669.9 294.7 L671.8 295.4 L673.7 296.2 L675.6 296.9 L677.5 297.6 L679.4 298.4 L681.3 299.1 L683.2 299.9 L685.1 300.6 L687.0 301.4 L688.9 302.2 L690.8 302.9 L692.6 303.7 L694.5 304.5 L696.4 305.4 L698.3 306.2 L700.1 307.0 L702.0 307.8 L703.8 308.7 L705.7 309.5 L707.6 310.4 L709.4 311.2 L711.3 312.0 L713.2 312.9 L715.0 313.7 L716.9 314.5 L718.7 315.4 L720.6 316.2 L722.5 317.0 L724.4 317.8 L726.2 318.6 L728.1 319.4 L730.0 320.2 L731.9 321.0 L733.8 321.8 L735.6 322.6 L737.4 323.5 L739.3 324.4 L741.0 325.4 L742.8 326.4 L744.6 327.4 L746.3 328.4 L748.1 329.4 L749.8 330.5 L751.5 331.6 L753.2 332.7 L754.9 333.8 L756.6 335.0 L758.2 336.2 L759.8 337.4 L761.4 338.7 L763.0 339.9 L764.6 341.2 L766.2 342.5 L767.7 343.8 L769.2 345.1 L770.7 346.5 L772.2 347.9 L773.6 349.3 L775.0 350.8 L776.4 352.3 L777.7 353.7 L779.1 355.2 L780.5 356.7 L781.9 358.2 L783.3 359.7 L784.6 361.1 L786.0 362.6 L787.3 364.1 L788.7 365.7 L790.0 367.2 L791.3 368.7 L792.5 370.3 L793.8 371.9 L795.1 373.4 L796.4 375.0 L797.6 376.6 L798.9 378.1 L800.2 379.7 L801.5 381.2 L802.7 382.8 L804.0 384.4 L805.1 386.0 L806.3 387.7 L807.4 389.4 L808.5 391.0 L809.5 392.8 L810.6 394.5 L811.6 396.2 L812.6 398.0 L813.5 399.7 L814.5 401.5 L815.4 403.3 L816.3 405.1 L817.2 406.9 L818.1 408.7 L818.9 410.5 L819.7 412.3 L820.5 414.2 L821.2 416.1 L821.9 417.9 L822.6 419.8 L823.3 421.7 L824.0 423.6 L824.7 425.5 L825.4 427.4 L826.0 429.2 L826.7 431.1 L827.4 433.0 L828.0 434.9 L828.6 436.8 L829.2 438.8 L829.7 440.7 L830.2 442.6 L830.7 444.6 L831.1 446.5 L831.5 448.5 L831.8 450.5 L832.2 452.4 L832.5 454.4 L832.8 456.4 L833.2 458.3 L833.5 460.3 L833.8 462.3 L834.1 464.3 L834.4 466.3 L834.7 468.2 L835.0 470.2 L835.3 472.2 L835.6 474.2 L835.8 476.2 L836.1 478.2 L836.3 480.1 L836.6 482.1 L836.8 484.1 L837.0 486.1 L837.3 488.1 L837.5 490.1 L837.7 492.1 L837.9 494.1 L838.1 496.1 L838.3 498.0 L838.5 500.0 L838.7 502.0 L838.9 504.0 L839.1 506.0 L839.2 508.0 L839.4 510.0 L839.5 512.0 L839.6 514.0 L839.7 516.0 L839.7 518.0 L839.8 520.0 L839.9 522.0 L840.0 524.0 L840.0 526.0 L840.1 528.0 L840.2 530.0 L840.2 532.0 L840.3 534.0 L840.4 536.0 L840.4 538.0 L840.5 540.0 L841.5 607.0" fill="none" stroke="#ffff00" stroke-width="1.4" stroke-linejoin="round"/>
<path d="M234.8 242.3 L236.8 242.3 L238.8 242.4 L240.8 242.4 L242.8 242.5 L244.8 242.5 L246.8 242.6 L248.8 242.6 L250.8 242.7 L252.8 242.7 L254.8 242.8 L256.8 242.8 L258.8 242.9 L260.8 242.9 L262.8 243.0 L264.8 243.0 L266.9 243.1 L268.9 243.1 L270.9 243.1 L272.9 243.2 L274.9 243.2 L276.9 243.3 L278.9 243.3 L280.9 243.4 L282.9 243.4 L284.9 243.5 L286.9 243.5 L288.9 243.6 L290.9 243.6 L292.9 243.7 L294.9 243.7 L296.9 243.8 L298.9 243.8 L300.9 243.8 L302.9 243.9 L304.9 243.9 L306.9 244.0 L308.9 244.0 L310.9 244.1 L312.9 244.1 L314.9 244.2 L316.9 244.2 L318.9 244.3 L320.9 244.3 L322.9 244.4 L324.9 244.5 L326.9 244.6 L328.9 244.7 L330.9 244.8 L332.9 244.9 L334.9 245.0 L336.9 245.2 L338.9 245.3 L340.9 245.5 L342.9 245.6 L344.9 245.8 L346.9 246.0 L348.9 246.1 L350.9 246.3 L352.9 246.4 L354.9 246.6 L356.9 246.7 L358.9 246.9 L360.9 247.1 L362.9 247.2 L364.9 247.4 L366.9 247.6 L368.9 247.7 L370.9 247.9 L372.9 248.1 L374.9 248.3 L376.9 248.5 L378.9 248.7 L380.9 248.9 L382.8 249.1 L384.8 249.4 L386.8 249.6 L388.8 249.9 L390.8 250.2 L392.8 250.4 L394.8 250.7 L396.7 251.0 L398.7 251.2 L400.7 251.5 L402.7 251.8 L404.7 252.1 L406.7 252.3 L408.7 252.6 L410.6 252.9 L412.6 253.2 L414.6 253.4 L416.6 253.7 L418.6 254.0 L420.6 254.2 L422.6 254.5 L424.5 254.8 L426.5 255.1 L428.5 255.3 L430.5 255.6 L432.5 255.9 L434.5 256.2 L436.4 256.4 L438.4 256.7 L440.4 257.0 L442.4 257.2 L444.4 257.5 L446.4 257.8 L448.4 258.1 L450.3 258.3 L452.3 258.6 L454.3 258.8 L456.3 259.1 L458.3 259.3 L460.3 259.6 L462.3 259.8 L464.3 260.0 L466.3 260.2 L468.3 260.4 L470.2 260.6 L472.2 260.8 L474.2 261.0 L476.2 261.2 L478.2 261.4 L480.2 261.6 L482.2 261.8 L484.2 262.0 L486.2 262.3 L488.2 262.5 L490.2 262.7 L492.2 263.0 L494.1 263.2 L496.1 263.5 L498.1 263.9 L500.0 264.3 L502.0 264.7 L503.9 265.2 L505.8 265.7 L507.8 266.2 L509.7 266.8 L511.6 267.3 L513.5 267.9 L515.5 268.4 L517.4 269.0 L519.3 269.5 L521.3 270.0 L523.2 270.5 L525.1 271.0 L527.1 271.5 L529.0 272.0 L531.0 272.5 L532.9 273.0 L534.9 273.5 L536.8 273.9 L538.8 274.4 L540.7 274.8 L542.7 275.3 L544.6 275.8 L546.6 276.2 L548.5 276.7 L550.4 277.2 L552.4 277.7 L554.3 278.2 L556.3 278.8 L558.2 279.3 L560.1 279.9 L562.0 280.5 L563.9 281.1 L565.8 281.7 L567.7 282.4 L569.5 283.2 L571.4 283.9 L573.2 284.7 L575.0 285.5 L576.9 286.3 L578.7 287.1 L580.5 287.9 L582.4 288.7 L584.2 289.6 L586.0 290.4 L587.9 291.2 L589.7 292.0 L591.5 292.9 L593.3 293.8 L595.0 294.7 L596.8 295.6 L598.5 296.7 L600.2 297.7 L601.8 298.8 L603.5 300.0 L605.1 301.1 L606.7 302.4 L608.2 303.6 L609.8 304.8 L611.4 306.1 L612.9 307.3 L614.5 308.6 L616.0 309.9 L617.6 311.2 L619.1 312.5 L620.6 313.8 L622.1 315.1 L623.6 316.4 L625.1 317.7 L626.6 319.0 L628.1 320.4 L629.7 321.7 L631.2 323.0 L632.7 324.3 L634.2 325.6 L635.7 326.9 L637.2 328.2 L638.7 329.5 L640.3 330.8 L641.8 332.1 L643.3 333.4 L644.9 334.7 L646.4 336.0 L647.9 337.3 L649.4 338.6 L651.0 339.9 L652.5 341.2 L654.0 342.5 L655.5 343.8 L657.1 345.1 L658.6 346.4 L660.1 347.8 L661.6 349.1 L663.1 350.4 L664.5 351.8 L666.0 353.2 L667.4 354.6 L668.8 356.0 L670.2 357.4 L671.6 358.8 L673.0 360.3 L674.4 361.7 L675.7 363.2 L677.1 364.7 L678.4 366.1 L679.8 367.6 L681.1 369.2 L682.3 370.7 L683.5 372.3 L684.7 373.9 L685.9 375.5 L687.0 377.1 L688.1 378.8 L689.2 380.5 L690.3 382.2 L691.3 383.9 L692.3 385.6 L693.3 387.4 L694.3 389.1 L695.2 390.9 L696.0 392.7 L696.8 394.5 L697.6 396.3 L698.3 398.2 L698.9 400.1 L699.5 402.0 L700.1 403.9 L700.7 405.8 L701.2 407.7 L701.8 409.7 L702.3 411.6 L702.8 413.5 L703.4 415.5 L703.9 417.4 L704.5 419.3 L705.0 421.2 L705.6 423.2 L706.2 425.1 L706.7 427.0 L707.3 428.9 L707.8 430.9 L708.3 432.8 L708.8 434.7 L709.3 436.7 L709.8 438.6 L710.3 440.6 L710.7 442.5 L711.1 444.5 L711.5 446.4 L711.9 448.4 L712.3 450.4 L712.7 452.3 L713.1 454.3 L713.5 456.3 L713.8 458.2 L714.2 460.2 L714.5 462.2 L714.8 464.2 L715.1 466.1 L715.4 468.1 L715.6 470.1 L715.9 472.1 L716.1 474.1 L716.3 476.1 L716.6 478.1 L716.8 480.1 L717.0 482.1 L717.2 484.1 L717.4 486.0 L717.5 488.0 L717.7 490.0 L717.9 492.0 L718.1 494.0 L718.3 496.0 L718.5 498.0 L718.6 500.0 L718.8 502.0 L718.9 504.0 L719.1 506.0 L719.2 508.0 L719.4 510.0 L719.5 512.0 L719.6 514.0 L719.8 516.0 L719.9 518.0 L720.0 520.0 L720.2 522.0 L720.3 524.0 L720.4 526.0 L720.5 528.0 L720.7 530.0 L720.8 532.0 L721.8 537.0" fill="none" stroke="#ffff00" stroke-width="1.4" stroke-linejoin="round"/>
<path d="M236.0 242.3 L238.0 242.3 L240.0 242.4 L242.0 242.4 L244.0 242.5 L246.0 242.5 L248.0 242.6 L250.0 242.6 L252.0 242.7 L254.0 242.7 L256.0 242.8 L258.0 242.8 L260.0 242.9 L262.0 242.9 L264.0 243.0 L266.0 243.0 L268.1 243.1 L270.1 243.1 L272.1 243.1 L274.1 243.2 L276.1 243.2 L278.1 243.3 L280.1 243.3 L282.1 243.4 L284.1 243.4 L286.1 243.5 L288.1 243.5 L290.1 243.6 L292.1 243.6 L294.1 243.7 L296.1 243.7 L298.1 243.8 L300.1 243.8 L302.1 243.8 L304.1 243.9 L306.1 243.9 L308.1 244.0 L310.1 244.0 L312.1 244.1 L314.1 244.1 L316.1 244.2 L318.1 244.2 L320.1 244.3 L322.1 244.3 L324.1 244.4 L326.1 244.5 L328.1 244.6 L330.1 244.7 L332.1 244.8 L334.1 244.9 L336.1 245.0 L338.1 245.2 L340.1 245.3 L342.1 245.5 L344.1 245.6 L346.1 245.8 L348.1 246.0 L350.1 246.1 L352.1 246.3 L354.1 246.4 L356.1 246.6 L358.1 246.7 L360.1 246.9 L362.1 247.1 L364.1 247.2 L366.1 247.4 L368.1 247.6 L370.1 247.7 L372.1 247.9 L374.1 248.1 L376.1 248.3 L378.1 248.5 L380.1 248.7 L382.1 248.9 L384.0 249.1 L386.0 249.4 L388.0 249.6 L390.0 249.9 L392.0 250.2 L394.0 250.4 L396.0 250.7 L397.9 251.0 L399.9 251.2 L401.9 251.5 L403.9 251.8 L405.9 252.1 L407.9 252.3 L409.9 252.6 L411.8 252.9 L413.8 253.2 L415.8 253.4 L417.8 253.7 L419.8 254.0 L421.8 254.2 L423.8 254.5 L425.7 254.8 L427.7 255.1 L429.7 255.3 L431.7 255.6 L433.7 255.9 L435.7 256.2 L437.6 256.4 L439.6 256.7 L441.6 257.0 L443.6 257.2 L445.6 257.5 L447.6 257.8 L449.6 258.1 L451.5 258.3 L453.5 258.6 L455.5 258.8 L457.5 259.1 L459.5 259.3 L461.5 259.6 L463.5 259.8 L465.5 260.0 L467.5 260.2 L469.5 260.4 L471.4 260.6 L473.4 260.8 L475.4 261.0 L477.4 261.2 L479.4 261.4 L481.4 261.6 L483.4 261.8 L485.4 262.0 L487.4 262.3 L489.4 262.5 L491.4 262.7 L493.4 263.0 L495.3 263.2 L497.3 263.5 L499.3 263.9 L501.2 264.3 L503.2 264.7 L505.1 265.2 L507.0 265.7 L509.0 266.2 L510.9 266.8 L512.8 267.3 L514.7 267.9 L516.7 268.4 L518.6 269.0 L520.5 269.5 L522.5 270.0 L524.4 270.5 L526.3 271.0 L528.3 271.5 L530.2 272.0 L532.2 272.5 L534.1 273.0 L536.1 273.5 L538.0 273.9 L540.0 274.4 L541.9 274.8 L543.9 275.3 L545.8 275.8 L547.8 276.2 L549.7 276.7 L551.6 277.2 L553.6 277.7 L555.5 278.2 L557.5 278.8 L559.4 279.3 L561.3 279.9 L563.2 280.5 L565.1 281.1 L567.0 281.7 L568.9 282.4 L570.7 283.2 L572.6 283.9 L574.4 284.7 L576.2 285.5 L578.1 286.3 L579.9 287.1 L581.7 287.9 L583.6 288.7 L585.4 289.6 L587.2 290.4 L589.1 291.2 L590.9 292.0 L592.7 292.9 L594.5 293.8 L596.2 294.7 L598.0 295.6 L599.7 296.7 L601.4 297.7 L603.0 298.8 L604.7 300.0 L606.3 301.1 L607.9 302.4 L609.4 303.6 L611.0 304.8 L612.6 306.1 L614.1 307.3 L615.7 308.6 L617.2 309.9 L618.8 311.2 L620.3 312.5 L621.8 313.8 L623.3 315.1 L624.8 316.4 L626.3 317.7 L627.8 319.0 L629.3 320.4 L630.9 321.7 L632.4 323.0 L633.9 324.3 L635.4 325.6 L636.9 326.9 L638.4 328.2 L639.9 329.5 L641.5 330.8 L643.0 332.1 L644.5 333.4 L646.1 334.7 L647.6 336.0 L649.1 337.3 L650.6 338.6 L652.2 339.9 L653.7 341.2 L655.2 342.5 L656.7 343.8 L658.3 345.1 L659.8 346.4 L661.3 347.8 L662.8 349.1 L664.3 350.4 L665.7 351.8 L667.2 353.2 L668.6 354.6 L670.0 356.0 L671.4 357.4 L672.8 358.8 L674.2 360.3 L675.6 361.7 L676.9 363.2 L678.3 364.7 L679.6 366.1 L681.0 367.6 L682.3 369.2 L683.5 370.7 L684.7 372.3 L685.9 373.9 L687.1 375.5 L688.2 377.1 L689.3 378.8 L690.4 380.5 L691.5 382.2 L692.5 383.9 L693.5 385.6 L694.5 387.4 L695.5 389.1 L696.4 390.9 L697.2 392.7 L698.0 394.5 L698.8 396.3 L699.5 398.2 L700.1 400.1 L700.7 402.0 L701.3 403.9 L701.9 405.8 L702.4 407.7 L703.0 409.7 L703.5 411.6 L704.0 413.5 L704.6 415.5 L705.1 417.4 L705.7 419.3 L706.2 421.2 L706.8 423.2 L707.4 425.1 L707.9 427.0 L708.5 428.9 L709.0 430.9 L709.5 432.8 L710.0 434.7 L710.5 436.7 L711.0 438.6 L711.5 440.6 L711.9 442.5 L712.3 444.5 L712.7 446.4 L713.1 448.4 L713.5 450.4 L713.9 452.3 L714.3 454.3 L714.7 456.3 L715.0 458.2 L715.4 460.2 L715.7 462.2 L716.0 464.2 L716.3 466.1 L716.6 468.1 L716.8 470.1 L717.1 472.1 L717.3 474.1 L717.5 476.1 L717.8 478.1 L718.0 480.1 L718.2 482.1 L718.4 484.1 L718.6 486.0 L718.7 488.0 L718.9 490.0 L719.1 492.0 L719.3 494.0 L719.5 496.0 L719.7 498.0 L719.8 500.0 L720.0 502.0 L720.1 504.0 L720.3 506.0 L720.4 508.0 L720.6 510.0 L720.7 512.0 L720.8 514.0 L721.0 516.0 L721.1 518.0 L721.2 520.0 L721.4 522.0 L721.5 524.0 L721.6 526.0 L721.7 528.0 L721.9 530.0 L722.0 532.0 L723.0 553.0" fill="none" stroke="#ffff00" stroke-width="1.4" stroke-linejoin="round"/>
<path d="M237.0 242.3 L239.0 242.3 L241.0 242.4 L243.0 242.4 L245.0 242.5 L247.0 242.5 L249.0 242.6 L251.0 242.6 L253.0 242.7 L255.0 242.7 L257.0 242.8 L259.0 242.8 L261.0 242.9 L263.0 242.9 L265.0 243.0 L267.0 243.0 L269.1 243.1 L271.1 243.1 L273.1 243.1 L275.1 243.2 L277.1 243.2 L279.1 243.3 L281.1 243.3 L283.1 243.4 L285.1 243.4 L287.1 243.5 L289.1 243.5 L291.1 243.6 L293.1 243.6 L295.1 243.7 L297.1 243.7 L299.1 243.8 L301.1 243.8 L303.1 243.8 L305.1 243.9 L307.1 243.9 L309.1 244.0 L311.1 244.0 L313.1 244.1 L315.1 244.1 L317.1 244.2 L319.1 244.2 L321.1 244.3 L323.1 244.3 L325.1 244.4 L327.1 244.5 L329.1 244.6 L331.1 244.7 L333.1 244.8 L335.1 244.9 L337.1 245.0 L339.1 245.2 L341.1 245.3 L343.1 245.5 L345.1 245.6 L347.1 245.8 L349.1 246.0 L351.1 246.1 L353.1 246.3 L355.1 246.4 L357.1 246.6 L359.1 246.7 L361.1 246.9 L363.1 247.1 L365.1 247.2 L367.1 247.4 L369.1 247.6 L371.1 247.7 L373.1 247.9 L375.1 248.1 L377.1 248.3 L379.1 248.5 L381.1 248.7 L383.1 248.9 L385.0 249.1 L387.0 249.4 L389.0 249.6 L391.0 249.9 L393.0 250.2 L395.0 250.4 L397.0 250.7 L398.9 251.0 L400.9 251.2 L402.9 251.5 L404.9 251.8 L406.9 252.1 L408.9 252.3 L410.9 252.6 L412.8 252.9 L414.8 253.2 L416.8 253.4 L418.8 253.7 L420.8 254.0 L422.8 254.2 L424.8 254.5 L426.7 254.8 L428.7 255.1 L430.7 255.3 L432.7 255.6 L434.7 255.9 L436.7 256.2 L438.6 256.4 L440.6 256.7 L442.6 257.0 L444.6 257.2 L446.6 257.5 L448.6 257.8 L450.6 258.1 L452.5 258.3 L454.5 258.6 L456.5 258.8 L458.5 259.1 L460.5 259.3 L462.5 259.6 L464.5 259.8 L466.5 260.0 L468.5 260.2 L470.5 260.4 L472.4 260.6 L474.4 260.8 L476.4 261.0 L478.4 261.2 L480.4 261.4 L482.4 261.6 L484.4 261.8 L486.4 262.0 L488.4 262.3 L490.4 262.5 L492.4 262.7 L494.4 263.0 L496.3 263.2 L498.3 263.5 L500.3 263.9 L502.2 264.3 L504.2 264.7 L506.1 265.2 L508.0 265.7 L510.0 266.2 L511.9 266.8 L513.8 267.3 L515.7 267.9 L517.7 268.4 L519.6 269.0 L521.5 269.5 L523.5 270.0 L525.4 270.5 L527.3 271.0 L529.3 271.5 L531.2 272.0 L533.2 272.5 L535.1 273.0 L537.1 273.5 L539.0 273.9 L541.0 274.4 L542.9 274.8 L544.9 275.3 L546.8 275.8 L548.8 276.2 L550.7 276.7 L552.6 277.2 L554.6 277.7 L556.5 278.2 L558.5 278.8 L560.4 279.3 L562.3 279.9 L564.2 280.5 L566.1 281.1 L568.0 281.7 L569.9 282.4 L571.7 283.2 L573.6 283.9 L575.4 284.7 L577.2 285.5 L579.1 286.3 L580.9 287.1 L582.7 287.9 L584.6 288.7 L586.4 289.6 L588.2 290.4 L590.1 291.2 L591.9 292.0 L593.7 292.9 L595.5 293.8 L597.2 294.7 L599.0 295.6 L600.7 296.7 L602.4 297.7 L604.0 298.8 L605.7 300.0 L607.3 301.1 L608.9 302.4 L610.4 303.6 L612.0 304.8 L613.6 306.1 L615.1 307.3 L616.7 308.6 L618.2 309.9 L619.8 311.2 L621.3 312.5 L622.8 313.8 L624.3 315.1 L625.8 316.4 L627.3 317.7 L628.8 319.0 L630.3 320.4 L631.9 321.7 L633.4 323.0 L634.9 324.3 L636.4 325.6 L637.9 326.9 L639.4 328.2 L640.9 329.5 L642.5 330.8 L644.0 332.1 L645.5 333.4 L647.1 334.7 L648.6 336.0 L650.1 337.3 L651.6 338.6 L653.2 339.9 L654.7 341.2 L656.2 342.5 L657.7 343.8 L659.3 345.1 L660.8 346.4 L662.3 347.8 L663.8 349.1 L665.3 350.4 L666.7 351.8 L668.2 353.2 L669.6 354.6 L671.0 356.0 L672.4 357.4 L673.8 358.8 L675.2 360.3 L676.6 361.7 L677.9 363.2 L679.3 364.7 L680.6 366.1 L682.0 367.6 L683.3 369.2 L684.5 370.7 L685.7 372.3 L686.9 373.9 L688.1 375.5 L689.2 377.1 L690.3 378.8 L691.4 380.5 L692.5 382.2 L693.5 383.9 L694.5 385.6 L695.5 387.4 L696.5 389.1 L697.4 390.9 L698.2 392.7 L699.0 394.5 L699.8 396.3 L700.5 398.2 L701.1 400.1 L701.7 402.0 L702.3 403.9 L702.9 405.8 L703.4 407.7 L704.0 409.7 L704.5 411.6 L705.0 413.5 L705.6 415.5 L706.1 417.4 L706.7 419.3 L707.2 421.2 L707.8 423.2 L708.4 425.1 L708.9 427.0 L709.5 428.9 L710.0 430.9 L710.5 432.8 L711.0 434.7 L711.5 436.7 L712.0 438.6 L712.5 440.6 L712.9 442.5 L713.3 444.5 L713.7 446.4 L714.1 448.4 L714.5 450.4 L714.9 452.3 L715.3 454.3 L715.7 456.3 L716.0 458.2 L716.4 460.2 L716.7 462.2 L717.0 464.2 L717.3 466.1 L717.6 468.1 L717.8 470.1 L718.1 472.1 L718.3 474.1 L718.5 476.1 L718.8 478.1 L719.0 480.1 L719.2 482.1 L719.4 484.1 L719.6 486.0 L719.7 488.0 L719.9 490.0 L720.1 492.0 L720.3 494.0 L720.5 496.0 L720.7 498.0 L720.8 500.0 L721.0 502.0 L721.1 504.0 L721.3 506.0 L721.4 508.0 L721.6 510.0 L721.7 512.0 L721.8 514.0 L722.0 516.0 L722.1 518.0 L722.2 520.0 L722.4 522.0 L722.5 524.0 L722.6 526.0 L722.7 528.0 L722.9 530.0 L723.0 532.0 L724.0 582.5" fill="none" stroke="#ffff00" stroke-width="1.4" stroke-linejoin="round"/>
<text x="258.04 270.28 283.64 297.57 311.68 325.98 340.93 355.05 364.77 376.54 389.91 404.67 420.65 443.93 457.76 471.50 485.51 500.19 514.21 527.66 553.83 564.67 586.45 600.93 614.95 629.91 645.61 661.31 675.79 690.65 701.68" y="37.7" font-size="26" text-anchor="middle" fill="#0000a8" stroke="#0000a8" stroke-width="0.15" transform="scale(1.07 1)" >Transporter−2(Launch8,2021−059)</text>
<text x="283.90 292.54 301.69 311.19 319.15 326.27 331.86 343.47 351.69 359.58 367.03 377.12 386.27 394.24 402.46 422.46 429.49 437.46 445.59 453.81 468.14 476.78 484.75 498.98 506.53 520.76 541.95 550.59 558.22 566.44 574.75 589.92" y="80.5" font-size="15.5" text-anchor="middle" fill="#0000a8" stroke="#0000a8" stroke-width="0.3" transform="scale(1.18 1)" >Launch:2021–059(2021Jun30)Group1</text>
<text x="64.20 75.90 87.60" y="657.3" font-size="19" text-anchor="middle" fill="#0000a8" stroke="#0000a8" stroke-width="0.2" >100</text>
<text x="64.20 75.90 87.60" y="562.1" font-size="19" text-anchor="middle" fill="#0000a8" stroke="#0000a8" stroke-width="0.2" >200</text>
<text x="64.20 75.90 87.60" y="466.8" font-size="19" text-anchor="middle" fill="#0000a8" stroke="#0000a8" stroke-width="0.2" >300</text>
<text x="64.20 75.90 87.60" y="371.6" font-size="19" text-anchor="middle" fill="#0000a8" stroke="#0000a8" stroke-width="0.2" >400</text>
<text x="64.20 75.90 87.60" y="276.3" font-size="19" text-anchor="middle" fill="#0000a8" stroke="#0000a8" stroke-width="0.2" >500</text>
<text x="64.20 75.90 87.60" y="181.1" font-size="19" text-anchor="middle" fill="#0000a8" stroke="#0000a8" stroke-width="0.2" >600</text>
<text x="104.30 116.20 127.70 140.00" y="710" font-size="19" text-anchor="middle" fill="#0000a8" stroke="#0000a8" stroke-width="0.2" >2021</text>
<text x="326.63 338.53 350.03 362.33" y="710" font-size="19" text-anchor="middle" fill="#0000a8" stroke="#0000a8" stroke-width="0.2" >2022</text>
<text x="548.97 560.87 572.37 584.67" y="710" font-size="19" text-anchor="middle" fill="#0000a8" stroke="#0000a8" stroke-width="0.2" >2023</text>
<text x="771.30 783.20 794.70 807.00" y="710" font-size="19" text-anchor="middle" fill="#0000a8" stroke="#0000a8" stroke-width="0.2" >2024</text>
<text x="446.48 460.56 471.76 482.41 502.78 515.00 528.24 541.48 552.04" y="738.4" font-size="22.5" text-anchor="middle" fill="#0000a8" stroke="#0000a8" stroke-width="0.15" transform="scale(1.08 1)" >Date(UTC)</text>
<g transform="translate(21.9 0) rotate(-90)"><text x="-443.91 -432.00 -421.82 -413.00 -400.45 -387.00 -368.36 -356.55 -340.91 -326.27" y="0" font-size="23" text-anchor="middle" fill="#0000a8" stroke="#0000a8" stroke-width="0.15" transform="scale(1.1 1)" >Height(km)</text></g>
</svg>
</body></html>
